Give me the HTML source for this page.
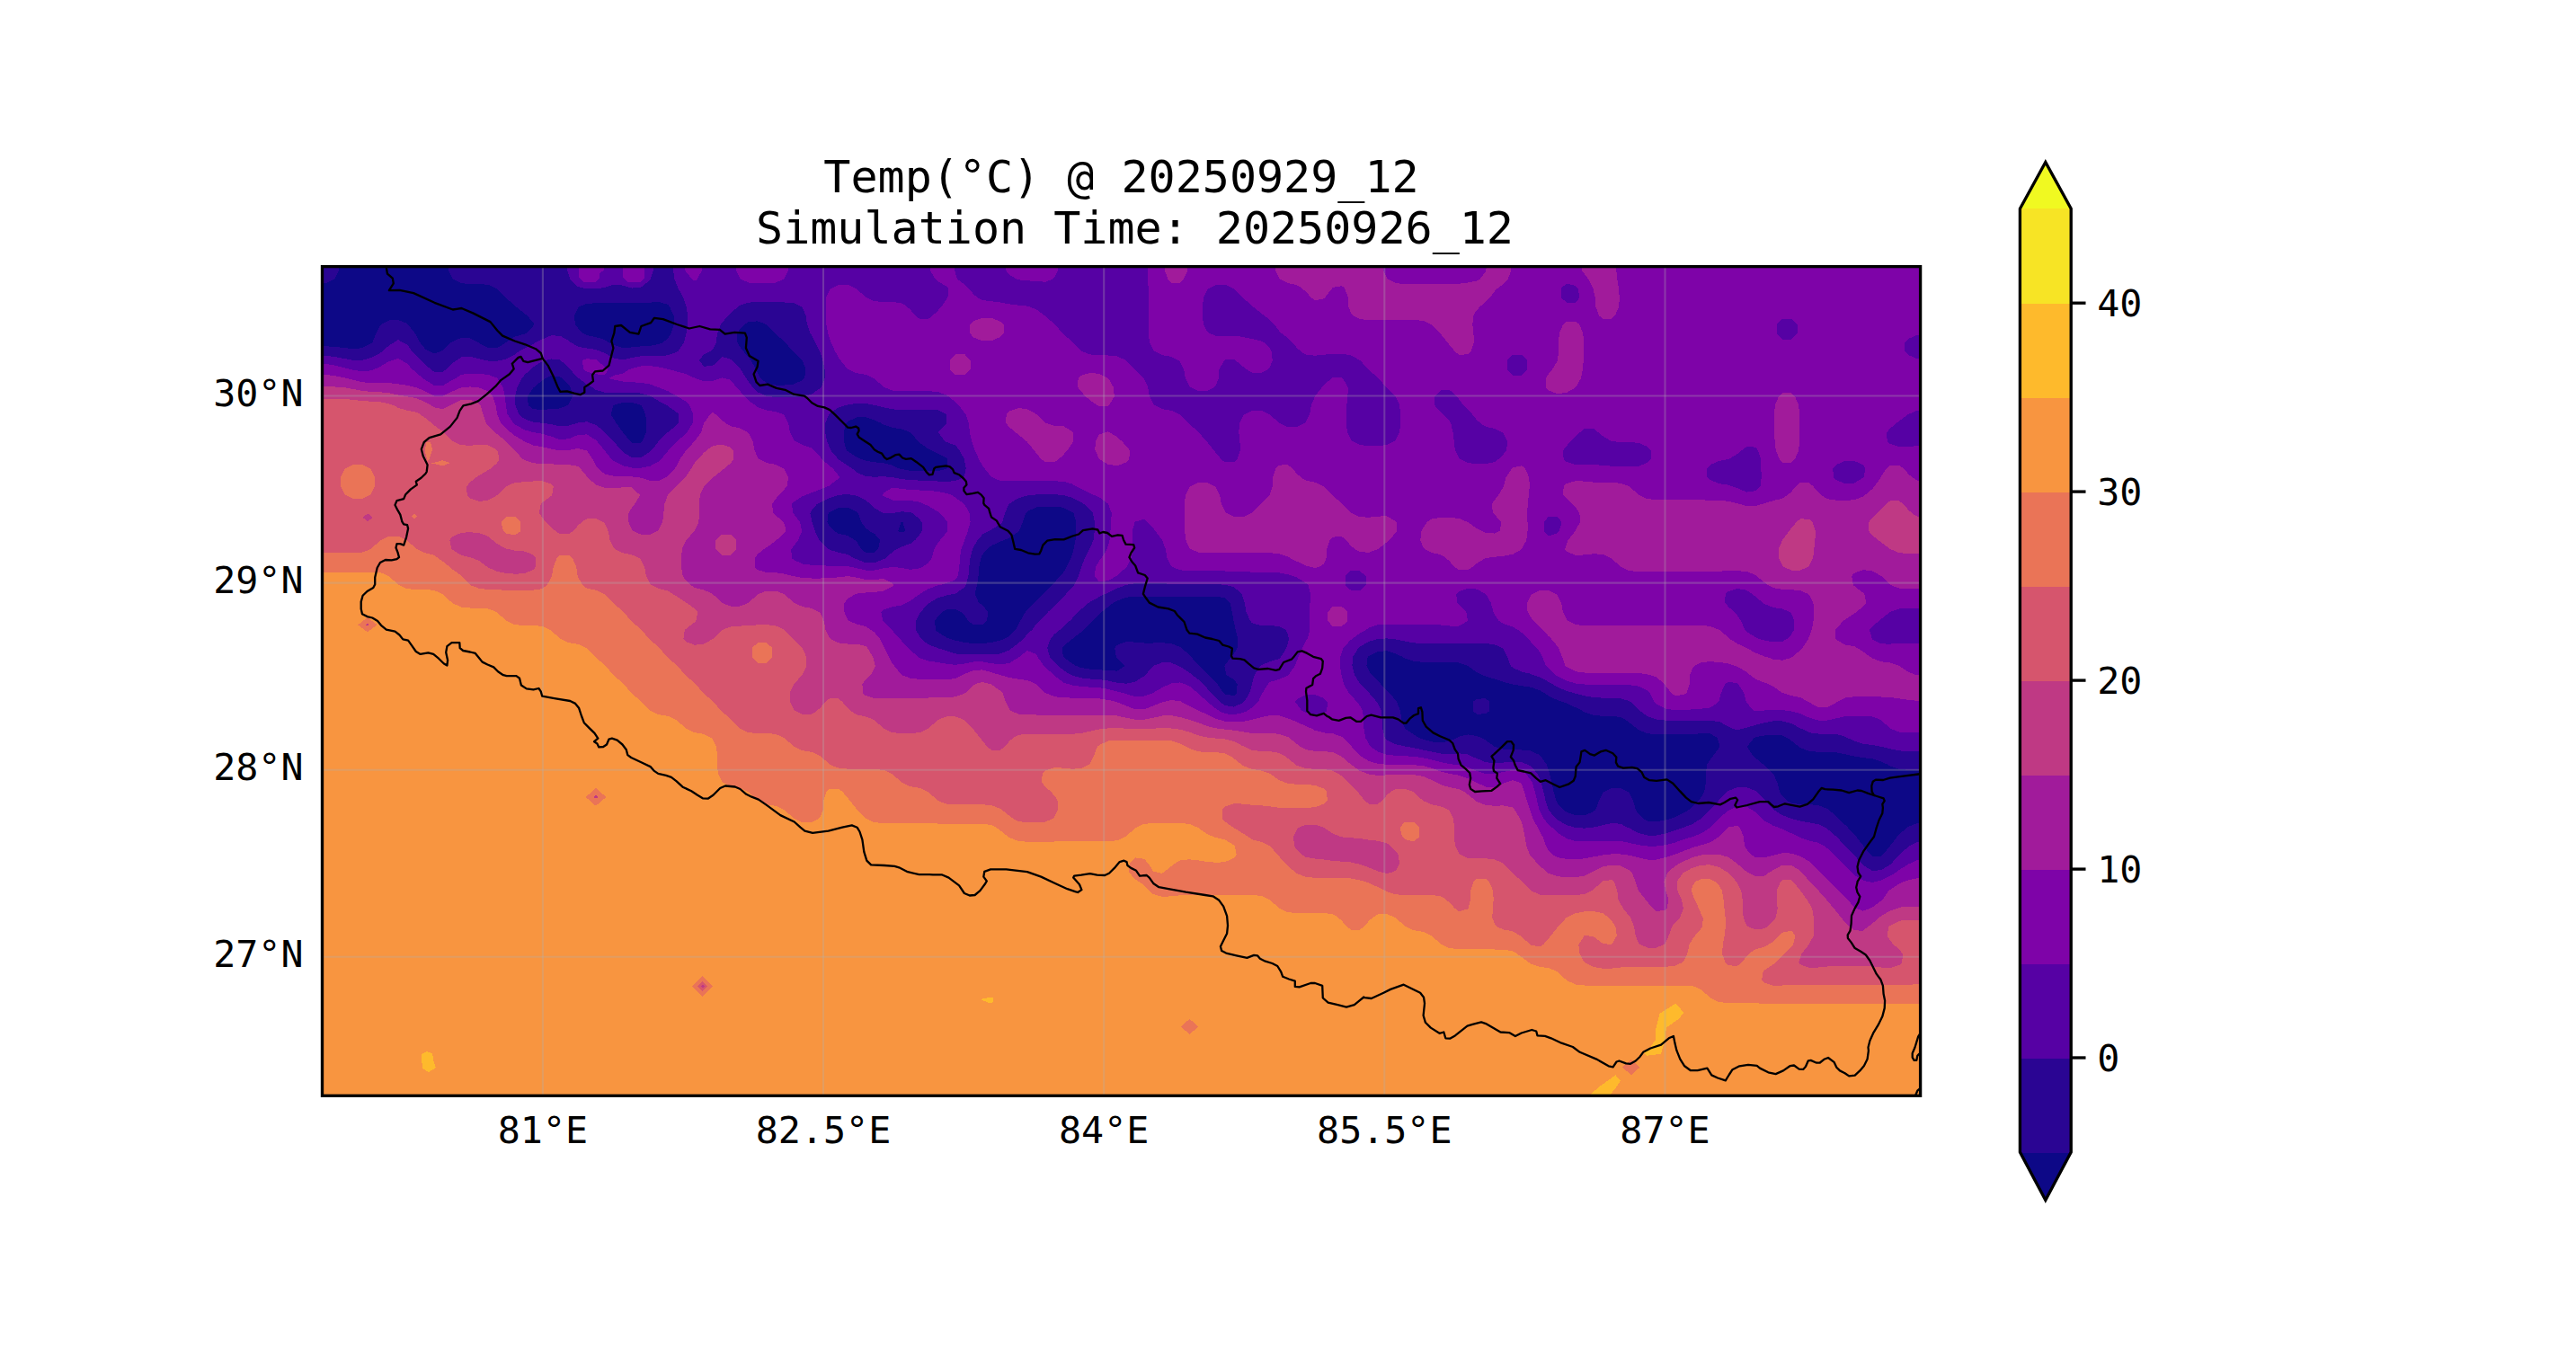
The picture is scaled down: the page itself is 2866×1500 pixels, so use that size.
<!DOCTYPE html>
<html><head><meta charset="utf-8"><title>Temp</title>
<style>html,body{margin:0;padding:0;background:#fff}svg{display:block}text{font-family:"DejaVu Sans Mono","Liberation Mono",monospace;fill:#000}</style></head><body>
<svg width="2866" height="1500" viewBox="0 0 2866 1500">
<rect width="2866" height="1500" fill="#fff"/>
<defs><clipPath id="axclip"><rect x="358.5" y="296.6" width="1778.1" height="922.7"/></clipPath></defs>
<g clip-path="url(#axclip)" shape-rendering="crispEdges">
<rect x="356.5" y="294.6" width="1782.1" height="926.7" fill="#0d0887"/>
<path fill="#2a0593" fill-rule="evenodd" d="M343.0 281.0L353.0 281.0L363.0 281.0L373.0 281.0L378.0 281.0L378.0 291.0L377.1 301.0L373.0 309.4L371.4 311.0L363.0 315.1L353.0 316.0L343.0 316.0L343.0 311.0L343.0 301.0L343.0 291.0ZM498.0 281.0L503.0 281.0L513.0 281.0L523.0 281.0L533.0 281.0L543.0 281.0L553.0 281.0L563.0 281.0L573.0 281.0L583.0 281.0L593.0 281.0L603.0 281.0L613.0 281.0L623.0 281.0L633.0 281.0L643.0 281.0L653.0 281.0L663.0 281.0L673.0 281.0L683.0 281.0L693.0 281.0L703.0 281.0L713.0 281.0L723.0 281.0L733.0 281.0L743.0 281.0L753.0 281.0L763.0 281.0L773.0 281.0L783.0 281.0L793.0 281.0L803.0 281.0L813.0 281.0L823.0 281.0L833.0 281.0L843.0 281.0L853.0 281.0L863.0 281.0L873.0 281.0L883.0 281.0L893.0 281.0L903.0 281.0L913.0 281.0L923.0 281.0L933.0 281.0L943.0 281.0L953.0 281.0L963.0 281.0L973.0 281.0L983.0 281.0L993.0 281.0L1003.0 281.0L1013.0 281.0L1023.0 281.0L1033.0 281.0L1043.0 281.0L1053.0 281.0L1063.0 281.0L1073.0 281.0L1083.0 281.0L1093.0 281.0L1103.0 281.0L1113.0 281.0L1123.0 281.0L1133.0 281.0L1143.0 281.0L1153.0 281.0L1163.0 281.0L1173.0 281.0L1183.0 281.0L1193.0 281.0L1203.0 281.0L1213.0 281.0L1223.0 281.0L1233.0 281.0L1243.0 281.0L1253.0 281.0L1263.0 281.0L1273.0 281.0L1283.0 281.0L1293.0 281.0L1303.0 281.0L1313.0 281.0L1323.0 281.0L1333.0 281.0L1343.0 281.0L1353.0 281.0L1363.0 281.0L1373.0 281.0L1383.0 281.0L1393.0 281.0L1403.0 281.0L1413.0 281.0L1423.0 281.0L1433.0 281.0L1443.0 281.0L1453.0 281.0L1463.0 281.0L1473.0 281.0L1483.0 281.0L1493.0 281.0L1503.0 281.0L1513.0 281.0L1523.0 281.0L1533.0 281.0L1543.0 281.0L1553.0 281.0L1563.0 281.0L1573.0 281.0L1583.0 281.0L1593.0 281.0L1603.0 281.0L1613.0 281.0L1623.0 281.0L1633.0 281.0L1643.0 281.0L1653.0 281.0L1663.0 281.0L1673.0 281.0L1683.0 281.0L1693.0 281.0L1703.0 281.0L1713.0 281.0L1723.0 281.0L1733.0 281.0L1743.0 281.0L1753.0 281.0L1763.0 281.0L1773.0 281.0L1783.0 281.0L1793.0 281.0L1803.0 281.0L1813.0 281.0L1823.0 281.0L1833.0 281.0L1843.0 281.0L1853.0 281.0L1863.0 281.0L1873.0 281.0L1883.0 281.0L1893.0 281.0L1903.0 281.0L1913.0 281.0L1923.0 281.0L1933.0 281.0L1943.0 281.0L1953.0 281.0L1963.0 281.0L1973.0 281.0L1983.0 281.0L1993.0 281.0L2003.0 281.0L2013.0 281.0L2023.0 281.0L2033.0 281.0L2043.0 281.0L2053.0 281.0L2063.0 281.0L2073.0 281.0L2083.0 281.0L2093.0 281.0L2103.0 281.0L2113.0 281.0L2123.0 281.0L2133.0 281.0L2143.0 281.0L2153.0 281.0L2153.0 291.0L2153.0 301.0L2153.0 311.0L2153.0 321.0L2153.0 331.0L2153.0 341.0L2153.0 351.0L2153.0 361.0L2153.0 371.0L2153.0 381.0L2153.0 391.0L2153.0 401.0L2153.0 411.0L2153.0 421.0L2153.0 431.0L2153.0 441.0L2153.0 451.0L2153.0 461.0L2153.0 471.0L2153.0 481.0L2153.0 491.0L2153.0 501.0L2153.0 511.0L2153.0 521.0L2153.0 531.0L2153.0 541.0L2153.0 551.0L2153.0 561.0L2153.0 571.0L2153.0 581.0L2153.0 591.0L2153.0 601.0L2153.0 611.0L2153.0 621.0L2153.0 631.0L2153.0 641.0L2153.0 651.0L2153.0 661.0L2153.0 671.0L2153.0 681.0L2153.0 691.0L2153.0 701.0L2153.0 711.0L2153.0 721.0L2153.0 731.0L2153.0 741.0L2153.0 751.0L2153.0 761.0L2153.0 771.0L2153.0 781.0L2153.0 791.0L2153.0 801.0L2153.0 811.0L2153.0 821.0L2153.0 831.0L2153.0 841.0L2153.0 851.0L2153.0 856.7L2143.0 856.7L2133.0 856.7L2123.0 856.7L2113.0 856.0L2103.0 852.6L2100.7 851.0L2093.0 847.4L2083.0 844.3L2073.0 843.2L2063.0 841.6L2060.7 841.0L2053.0 839.3L2043.0 837.3L2033.0 836.7L2023.0 836.7L2013.0 836.0L2003.0 832.1L2001.6 831.0L1993.0 824.2L1988.5 821.0L1983.0 818.4L1973.0 817.5L1963.0 818.5L1953.0 820.3L1951.5 821.0L1943.7 831.0L1950.5 841.0L1953.0 843.3L1962.2 851.0L1963.0 851.7L1972.9 861.0L1973.0 861.2L1977.5 871.0L1980.0 881.0L1983.0 886.0L1988.0 891.0L1993.0 893.6L2003.0 895.1L2013.0 895.2L2023.0 896.0L2033.0 899.9L2034.3 901.0L2043.0 908.2L2045.8 911.0L2053.0 918.0L2056.0 921.0L2063.0 928.5L2065.2 931.0L2073.0 941.0L2073.0 941.0L2081.0 951.0L2083.0 953.0L2093.0 952.9L2095.0 951.0L2103.0 941.0L2103.0 941.0L2110.8 931.0L2113.0 928.5L2121.7 921.0L2123.0 919.9L2133.0 916.0L2143.0 915.3L2153.0 915.3L2153.0 921.0L2153.0 931.0L2153.0 941.0L2153.0 951.0L2153.0 961.0L2153.0 971.0L2153.0 981.0L2153.0 991.0L2153.0 1001.0L2153.0 1011.0L2153.0 1021.0L2153.0 1031.0L2153.0 1041.0L2153.0 1051.0L2153.0 1061.0L2153.0 1071.0L2153.0 1081.0L2153.0 1091.0L2153.0 1101.0L2153.0 1111.0L2153.0 1121.0L2153.0 1131.0L2153.0 1141.0L2153.0 1151.0L2153.0 1161.0L2153.0 1171.0L2153.0 1181.0L2153.0 1191.0L2153.0 1201.0L2153.0 1211.0L2153.0 1221.0L2153.0 1231.0L2153.0 1241.0L2153.0 1251.0L2143.0 1251.0L2133.0 1251.0L2123.0 1251.0L2113.0 1251.0L2103.0 1251.0L2093.0 1251.0L2083.0 1251.0L2073.0 1251.0L2063.0 1251.0L2053.0 1251.0L2043.0 1251.0L2033.0 1251.0L2023.0 1251.0L2013.0 1251.0L2003.0 1251.0L1993.0 1251.0L1983.0 1251.0L1973.0 1251.0L1963.0 1251.0L1953.0 1251.0L1943.0 1251.0L1933.0 1251.0L1923.0 1251.0L1913.0 1251.0L1903.0 1251.0L1893.0 1251.0L1883.0 1251.0L1873.0 1251.0L1863.0 1251.0L1853.0 1251.0L1843.0 1251.0L1833.0 1251.0L1823.0 1251.0L1813.0 1251.0L1803.0 1251.0L1793.0 1251.0L1783.0 1251.0L1773.0 1251.0L1763.0 1251.0L1753.0 1251.0L1743.0 1251.0L1733.0 1251.0L1723.0 1251.0L1713.0 1251.0L1703.0 1251.0L1693.0 1251.0L1683.0 1251.0L1673.0 1251.0L1663.0 1251.0L1653.0 1251.0L1643.0 1251.0L1633.0 1251.0L1623.0 1251.0L1613.0 1251.0L1603.0 1251.0L1593.0 1251.0L1583.0 1251.0L1573.0 1251.0L1563.0 1251.0L1553.0 1251.0L1543.0 1251.0L1533.0 1251.0L1523.0 1251.0L1513.0 1251.0L1503.0 1251.0L1493.0 1251.0L1483.0 1251.0L1473.0 1251.0L1463.0 1251.0L1453.0 1251.0L1443.0 1251.0L1433.0 1251.0L1423.0 1251.0L1413.0 1251.0L1403.0 1251.0L1393.0 1251.0L1383.0 1251.0L1373.0 1251.0L1363.0 1251.0L1353.0 1251.0L1343.0 1251.0L1333.0 1251.0L1323.0 1251.0L1313.0 1251.0L1303.0 1251.0L1293.0 1251.0L1283.0 1251.0L1273.0 1251.0L1263.0 1251.0L1253.0 1251.0L1243.0 1251.0L1233.0 1251.0L1223.0 1251.0L1213.0 1251.0L1203.0 1251.0L1193.0 1251.0L1183.0 1251.0L1173.0 1251.0L1163.0 1251.0L1153.0 1251.0L1143.0 1251.0L1133.0 1251.0L1123.0 1251.0L1113.0 1251.0L1103.0 1251.0L1093.0 1251.0L1083.0 1251.0L1073.0 1251.0L1063.0 1251.0L1053.0 1251.0L1043.0 1251.0L1033.0 1251.0L1023.0 1251.0L1013.0 1251.0L1003.0 1251.0L993.0 1251.0L983.0 1251.0L973.0 1251.0L963.0 1251.0L953.0 1251.0L943.0 1251.0L933.0 1251.0L923.0 1251.0L913.0 1251.0L903.0 1251.0L893.0 1251.0L883.0 1251.0L873.0 1251.0L863.0 1251.0L853.0 1251.0L843.0 1251.0L833.0 1251.0L823.0 1251.0L813.0 1251.0L803.0 1251.0L793.0 1251.0L783.0 1251.0L773.0 1251.0L763.0 1251.0L753.0 1251.0L743.0 1251.0L733.0 1251.0L723.0 1251.0L713.0 1251.0L703.0 1251.0L693.0 1251.0L683.0 1251.0L673.0 1251.0L663.0 1251.0L653.0 1251.0L643.0 1251.0L633.0 1251.0L623.0 1251.0L613.0 1251.0L603.0 1251.0L593.0 1251.0L583.0 1251.0L573.0 1251.0L563.0 1251.0L553.0 1251.0L543.0 1251.0L533.0 1251.0L523.0 1251.0L513.0 1251.0L503.0 1251.0L493.0 1251.0L483.0 1251.0L473.0 1251.0L463.0 1251.0L453.0 1251.0L443.0 1251.0L433.0 1251.0L423.0 1251.0L413.0 1251.0L403.0 1251.0L393.0 1251.0L383.0 1251.0L373.0 1251.0L363.0 1251.0L353.0 1251.0L343.0 1251.0L343.0 1241.0L343.0 1231.0L343.0 1221.0L343.0 1211.0L343.0 1201.0L343.0 1191.0L343.0 1181.0L343.0 1171.0L343.0 1161.0L343.0 1151.0L343.0 1141.0L343.0 1131.0L343.0 1121.0L343.0 1111.0L343.0 1101.0L343.0 1091.0L343.0 1081.0L343.0 1071.0L343.0 1061.0L343.0 1051.0L343.0 1041.0L343.0 1031.0L343.0 1021.0L343.0 1011.0L343.0 1001.0L343.0 991.0L343.0 981.0L343.0 971.0L343.0 961.0L343.0 951.0L343.0 941.0L343.0 931.0L343.0 921.0L343.0 911.0L343.0 901.0L343.0 891.0L343.0 881.0L343.0 871.0L343.0 861.0L343.0 851.0L343.0 841.0L343.0 831.0L343.0 821.0L343.0 811.0L343.0 801.0L343.0 791.0L343.0 781.0L343.0 771.0L343.0 761.0L343.0 751.0L343.0 741.0L343.0 731.0L343.0 721.0L343.0 711.0L343.0 701.0L343.0 691.0L343.0 681.0L343.0 671.0L343.0 661.0L343.0 651.0L343.0 641.0L343.0 631.0L343.0 621.0L343.0 611.0L343.0 601.0L343.0 591.0L343.0 581.0L343.0 571.0L343.0 561.0L343.0 551.0L343.0 541.0L343.0 531.0L343.0 521.0L343.0 511.0L343.0 501.0L343.0 491.0L343.0 481.0L343.0 471.0L343.0 461.0L343.0 451.0L343.0 441.0L343.0 431.0L343.0 421.0L343.0 411.0L343.0 401.0L343.0 391.0L343.0 385.2L353.0 385.2L363.0 385.3L373.0 385.9L383.0 387.1L393.0 388.2L403.0 387.2L413.0 382.2L414.4 381.0L418.4 371.0L423.0 362.1L424.1 361.0L433.0 356.4L443.0 356.1L453.0 360.1L454.0 361.0L461.7 371.0L463.0 373.3L467.3 381.0L473.0 388.3L477.6 391.0L483.0 393.6L490.6 391.0L493.0 389.6L502.0 381.0L503.0 380.2L513.0 376.0L523.0 376.3L531.5 381.0L533.0 381.7L543.0 387.3L553.0 387.3L563.0 381.1L563.1 381.0L573.0 374.5L583.0 371.8L585.0 371.0L593.0 363.0L594.6 361.0L593.0 358.3L586.2 351.0L583.0 348.5L573.8 341.0L573.0 340.2L563.0 331.5L562.5 331.0L553.0 321.3L552.5 321.0L543.0 316.8L533.0 316.0L523.0 316.0L513.0 315.1L504.6 311.0L503.0 309.4L498.9 301.0L498.0 291.0ZM613.0 418.2L607.3 421.0L603.0 423.7L593.9 431.0L593.0 431.8L586.9 441.0L587.8 451.0L593.0 455.2L603.0 455.9L613.0 455.2L623.0 454.4L631.4 451.0L633.0 449.4L636.9 441.0L634.9 431.0L633.0 428.8L625.2 421.0L623.0 419.2ZM653.0 337.9L644.6 341.0L643.0 342.6L638.9 351.0L640.0 361.0L643.0 365.1L648.9 371.0L653.0 373.1L663.0 375.1L673.0 378.2L677.0 381.0L683.0 384.0L693.0 387.2L703.0 386.4L713.0 385.4L723.0 384.8L733.0 383.0L737.7 381.0L743.0 376.4L746.6 371.0L749.7 361.0L749.5 351.0L744.9 341.0L743.0 338.7L733.0 336.1L723.0 336.6L713.0 337.0L703.0 337.1L693.0 336.9L683.0 336.8L673.0 337.0L663.0 337.2ZM833.0 358.1L828.0 361.0L823.0 366.0L820.1 371.0L820.3 381.0L823.0 385.5L827.1 391.0L833.0 397.9L835.6 401.0L841.0 411.0L843.0 415.5L846.3 421.0L853.0 426.5L863.0 428.5L873.0 428.5L883.0 427.5L893.0 422.9L895.0 421.0L896.5 411.0L893.0 401.5L892.7 401.0L883.0 391.6L882.4 391.0L873.4 381.0L873.0 380.5L863.0 371.5L862.5 371.0L853.0 361.3L852.5 361.0L843.0 357.4ZM923.0 569.8L921.6 571.0L920.4 581.0L923.0 586.0L928.0 591.0L933.0 593.9L943.0 595.9L950.9 601.0L953.0 602.7L958.2 611.0L963.0 614.7L973.0 614.5L977.0 611.0L979.2 601.0L973.0 593.9L967.4 591.0L963.0 587.5L958.4 581.0L954.8 571.0L953.0 569.4L943.0 564.6L933.0 564.8ZM943.0 469.1L941.0 471.0L938.8 481.0L938.9 491.0L941.8 501.0L943.0 502.1L953.0 508.7L958.2 511.0L963.0 512.6L973.0 514.3L983.0 515.2L993.0 517.7L999.1 521.0L1003.0 522.0L1013.0 523.8L1023.0 524.3L1033.0 524.5L1043.0 524.3L1053.0 521.6L1053.9 521.0L1054.5 511.0L1053.0 509.6L1043.0 504.3L1035.9 501.0L1033.0 499.7L1023.0 492.5L1021.4 491.0L1013.0 481.3L1012.5 481.0L1003.0 477.4L993.0 476.0L983.0 472.6L980.7 471.0L973.0 467.4L963.0 464.3L953.0 464.5ZM1143.0 569.1L1141.0 571.0L1138.0 581.0L1133.5 591.0L1133.0 591.6L1123.0 598.7L1116.8 601.0L1113.0 602.6L1103.0 607.2L1098.2 611.0L1093.0 617.3L1091.4 621.0L1089.4 631.0L1088.5 641.0L1087.1 651.0L1084.6 661.0L1089.2 671.0L1093.0 673.4L1099.4 681.0L1097.8 691.0L1093.0 695.0L1083.0 695.2L1077.3 691.0L1073.0 684.7L1069.4 681.0L1063.0 677.9L1053.0 678.5L1048.0 681.0L1043.0 686.0L1040.1 691.0L1040.9 701.0L1043.0 703.1L1053.0 709.3L1057.1 711.0L1063.0 712.7L1073.0 714.9L1083.0 716.1L1093.0 716.1L1103.0 714.9L1113.0 712.7L1117.2 711.0L1123.0 707.8L1129.8 701.0L1133.0 695.4L1135.1 691.0L1140.8 681.0L1143.0 678.5L1150.2 671.0L1153.0 668.2L1160.1 661.0L1163.0 658.1L1170.2 651.0L1173.0 648.2L1179.7 641.0L1183.0 637.2L1186.8 631.0L1191.4 621.0L1193.0 616.8L1194.6 611.0L1196.6 601.0L1197.3 591.0L1197.3 581.0L1194.4 571.0L1193.0 569.8L1183.0 564.8L1173.0 563.5L1163.0 563.5L1153.0 564.5ZM1243.0 668.5L1238.3 671.0L1233.0 675.3L1225.8 681.0L1223.0 683.8L1215.9 691.0L1213.0 693.9L1205.5 701.0L1203.0 703.2L1193.0 710.9L1192.9 711.0L1183.0 719.2L1181.5 721.0L1183.0 731.0L1183.0 731.0L1193.0 738.5L1197.2 741.0L1203.0 743.1L1213.0 744.7L1223.0 745.3L1233.0 746.0L1243.0 746.6L1251.7 741.0L1243.0 732.6L1241.8 731.0L1240.1 721.0L1243.0 717.8L1253.0 714.1L1263.0 714.6L1273.0 715.5L1283.0 715.5L1293.0 715.3L1303.0 716.0L1313.0 719.9L1314.3 721.0L1323.0 728.5L1325.2 731.0L1333.0 739.5L1334.3 741.0L1343.0 749.8L1345.0 751.0L1353.0 759.1L1354.4 761.0L1361.1 771.0L1363.0 772.8L1373.0 774.0L1376.1 771.0L1376.6 761.0L1373.0 756.4L1364.5 751.0L1363.0 745.1L1362.3 741.0L1363.0 739.9L1370.0 731.0L1373.0 727.0L1376.8 721.0L1377.2 711.0L1374.8 701.0L1373.0 693.3L1372.4 691.0L1370.8 681.0L1368.5 671.0L1363.0 665.5L1353.0 663.5L1343.0 663.5L1333.0 663.5L1323.0 663.5L1313.0 663.5L1303.0 663.5L1293.0 663.5L1283.0 663.5L1273.0 663.5L1263.0 663.5L1253.0 664.7ZM1523.0 729.8L1521.7 731.0L1520.4 741.0L1523.0 746.5L1526.2 751.0L1533.0 758.0L1536.0 761.0L1543.0 768.2L1545.8 771.0L1553.0 779.7L1554.1 781.0L1558.0 791.0L1559.4 801.0L1563.0 810.5L1563.3 811.0L1573.0 817.4L1578.3 821.0L1583.0 822.6L1593.0 825.4L1603.0 826.5L1613.0 824.4L1621.1 821.0L1623.0 819.8L1633.0 817.4L1643.0 818.9L1647.7 821.0L1653.0 823.7L1663.0 831.0L1663.0 831.0L1673.0 833.9L1683.0 834.4L1693.0 834.5L1703.0 835.5L1713.0 840.2L1713.9 841.0L1720.9 851.0L1723.0 858.0L1724.1 861.0L1726.6 871.0L1728.6 881.0L1731.4 891.0L1733.0 894.4L1739.0 901.0L1743.0 903.8L1753.0 907.4L1763.0 907.5L1773.0 902.9L1775.3 901.0L1778.9 891.0L1783.0 882.6L1784.6 881.0L1793.0 876.9L1803.0 876.9L1811.4 881.0L1813.0 882.6L1817.1 891.0L1819.7 901.0L1823.0 906.0L1828.0 911.0L1833.0 913.5L1843.0 914.2L1853.0 912.5L1858.8 911.0L1863.0 909.4L1873.0 904.8L1879.1 901.0L1883.0 897.6L1889.8 891.0L1893.0 886.5L1896.1 881.0L1897.8 871.0L1897.9 861.0L1899.2 851.0L1903.0 845.0L1906.0 841.0L1913.0 831.8L1913.4 831.0L1913.0 829.1L1910.6 821.0L1903.0 816.4L1893.0 816.1L1883.0 817.0L1873.0 817.2L1863.0 817.2L1853.0 817.2L1843.0 817.1L1833.0 816.2L1823.0 812.2L1821.5 811.0L1813.0 804.2L1808.5 801.0L1803.0 798.1L1793.0 796.7L1783.0 796.7L1773.0 796.0L1763.0 792.6L1760.7 791.0L1753.0 787.2L1743.0 782.6L1739.2 781.0L1733.0 779.2L1723.0 774.5L1718.3 771.0L1713.0 768.2L1703.0 764.6L1693.0 763.2L1683.0 761.6L1680.9 761.0L1673.0 759.0L1663.0 755.6L1653.0 752.6L1649.1 751.0L1643.0 748.0L1633.0 741.0L1633.0 741.0L1623.0 737.4L1613.0 736.7L1603.0 736.7L1593.0 736.7L1583.0 736.7L1573.0 736.0L1563.0 732.6L1560.7 731.0L1553.0 727.4L1543.0 724.3L1533.0 724.8ZM683.0 450.7L682.3 451.0L679.6 461.0L683.0 466.7L685.7 471.0L693.0 481.0L693.0 481.0L701.0 491.0L703.0 492.9L713.0 492.7L714.6 491.0L718.9 481.0L719.3 471.0L718.2 461.0L713.5 451.0L713.0 450.7L703.0 447.8L693.0 448.0ZM1003.0 580.7L1002.4 581.0L999.1 591.0L1003.0 592.6L1007.3 591.0L1004.4 581.0ZM1638.7 781.0L1643.0 777.6L1653.0 777.4L1657.3 781.0L1657.3 791.0L1653.0 794.4L1643.0 794.6L1638.7 791.0Z"/>
<path fill="#5601a4" fill-rule="evenodd" d="M630.5 281.0L633.0 281.0L643.0 281.0L653.0 281.0L663.0 281.0L673.0 281.0L683.0 281.0L693.0 281.0L703.0 281.0L713.0 281.0L723.0 281.0L727.3 281.0L727.3 291.0L726.8 301.0L723.6 311.0L723.0 311.8L713.0 319.9L703.0 320.6L693.0 317.6L683.0 316.6L673.0 319.8L666.0 321.0L663.0 321.5L653.0 321.4L651.1 321.0L643.0 319.0L634.4 311.0L633.0 306.5L631.2 301.0L630.5 291.0ZM748.7 281.0L753.0 281.0L763.0 281.0L773.0 281.0L783.0 281.0L793.0 281.0L803.0 281.0L813.0 281.0L823.0 281.0L833.0 281.0L843.0 281.0L853.0 281.0L863.0 281.0L873.0 281.0L883.0 281.0L893.0 281.0L903.0 281.0L913.0 281.0L923.0 281.0L933.0 281.0L943.0 281.0L953.0 281.0L963.0 281.0L973.0 281.0L983.0 281.0L993.0 281.0L1003.0 281.0L1013.0 281.0L1023.0 281.0L1033.0 281.0L1043.0 281.0L1053.0 281.0L1063.0 281.0L1073.0 281.0L1083.0 281.0L1093.0 281.0L1103.0 281.0L1113.0 281.0L1123.0 281.0L1133.0 281.0L1143.0 281.0L1153.0 281.0L1163.0 281.0L1173.0 281.0L1183.0 281.0L1193.0 281.0L1203.0 281.0L1213.0 281.0L1223.0 281.0L1233.0 281.0L1243.0 281.0L1253.0 281.0L1263.0 281.0L1273.0 281.0L1283.0 281.0L1293.0 281.0L1303.0 281.0L1313.0 281.0L1323.0 281.0L1333.0 281.0L1343.0 281.0L1353.0 281.0L1363.0 281.0L1373.0 281.0L1383.0 281.0L1393.0 281.0L1403.0 281.0L1413.0 281.0L1423.0 281.0L1433.0 281.0L1443.0 281.0L1453.0 281.0L1463.0 281.0L1473.0 281.0L1483.0 281.0L1493.0 281.0L1503.0 281.0L1513.0 281.0L1523.0 281.0L1533.0 281.0L1543.0 281.0L1553.0 281.0L1563.0 281.0L1573.0 281.0L1583.0 281.0L1593.0 281.0L1603.0 281.0L1613.0 281.0L1623.0 281.0L1633.0 281.0L1643.0 281.0L1653.0 281.0L1663.0 281.0L1673.0 281.0L1683.0 281.0L1693.0 281.0L1703.0 281.0L1713.0 281.0L1723.0 281.0L1733.0 281.0L1743.0 281.0L1753.0 281.0L1763.0 281.0L1773.0 281.0L1783.0 281.0L1793.0 281.0L1803.0 281.0L1813.0 281.0L1823.0 281.0L1833.0 281.0L1843.0 281.0L1853.0 281.0L1863.0 281.0L1873.0 281.0L1883.0 281.0L1893.0 281.0L1903.0 281.0L1913.0 281.0L1923.0 281.0L1933.0 281.0L1943.0 281.0L1953.0 281.0L1963.0 281.0L1973.0 281.0L1983.0 281.0L1993.0 281.0L2003.0 281.0L2013.0 281.0L2023.0 281.0L2033.0 281.0L2043.0 281.0L2053.0 281.0L2063.0 281.0L2073.0 281.0L2083.0 281.0L2093.0 281.0L2103.0 281.0L2113.0 281.0L2123.0 281.0L2133.0 281.0L2143.0 281.0L2153.0 281.0L2153.0 291.0L2153.0 301.0L2153.0 311.0L2153.0 321.0L2153.0 331.0L2153.0 341.0L2153.0 351.0L2153.0 361.0L2153.0 371.0L2153.0 381.0L2153.0 391.0L2153.0 401.0L2153.0 411.0L2153.0 421.0L2153.0 431.0L2153.0 441.0L2153.0 451.0L2153.0 461.0L2153.0 471.0L2153.0 481.0L2153.0 491.0L2153.0 501.0L2153.0 511.0L2153.0 521.0L2153.0 531.0L2153.0 541.0L2153.0 551.0L2153.0 561.0L2153.0 571.0L2153.0 581.0L2153.0 591.0L2153.0 601.0L2153.0 611.0L2153.0 621.0L2153.0 631.0L2153.0 641.0L2153.0 651.0L2153.0 661.0L2153.0 671.0L2153.0 681.0L2153.0 691.0L2153.0 701.0L2153.0 711.0L2153.0 721.0L2153.0 731.0L2153.0 741.0L2153.0 751.0L2153.0 761.0L2153.0 771.0L2153.0 781.0L2153.0 791.0L2153.0 801.0L2153.0 811.0L2153.0 821.0L2153.0 831.0L2153.0 836.0L2143.0 836.0L2133.0 836.0L2123.0 836.0L2113.0 835.4L2103.0 833.3L2093.6 831.0L2093.0 830.8L2083.0 829.0L2073.0 827.7L2063.0 824.6L2055.3 821.0L2053.0 819.7L2043.0 816.9L2033.0 816.5L2023.0 816.5L2013.0 815.2L2004.5 811.0L2003.0 810.4L1993.0 805.1L1983.0 802.4L1973.0 802.3L1963.0 804.2L1953.0 806.8L1943.0 809.7L1937.9 811.0L1933.0 812.6L1928.4 811.0L1923.0 808.5L1913.0 803.1L1903.0 801.8L1893.0 801.7L1883.0 801.8L1873.0 801.8L1863.0 801.8L1853.0 801.6L1847.5 801.0L1843.0 800.5L1833.0 797.2L1824.5 791.0L1823.0 789.2L1814.1 781.0L1813.0 780.2L1803.0 777.2L1793.0 776.6L1783.0 776.6L1773.0 776.0L1763.0 774.3L1753.0 771.7L1750.8 771.0L1743.0 768.8L1733.0 764.7L1726.7 761.0L1723.0 758.8L1713.0 753.4L1705.5 751.0L1703.0 749.8L1693.0 747.5L1683.0 742.9L1680.7 741.0L1677.1 731.0L1673.0 722.6L1671.4 721.0L1663.0 717.3L1653.0 716.0L1643.0 715.9L1633.0 716.1L1623.0 716.2L1613.0 716.1L1603.0 716.0L1593.0 716.0L1583.0 716.0L1573.0 715.4L1563.0 713.5L1553.0 711.5L1548.5 711.0L1543.0 710.4L1533.0 710.9L1532.8 711.0L1523.0 713.9L1513.0 719.6L1511.3 721.0L1505.1 731.0L1504.4 741.0L1507.1 751.0L1513.0 760.6L1513.3 761.0L1523.0 770.9L1523.1 771.0L1531.8 781.0L1533.0 783.5L1536.8 791.0L1538.0 801.0L1538.2 811.0L1540.7 821.0L1543.0 823.3L1553.0 828.4L1563.0 830.4L1565.5 831.0L1573.0 832.2L1583.0 834.4L1593.0 836.6L1603.0 838.6L1613.0 839.2L1623.0 838.3L1633.0 839.4L1636.0 841.0L1643.0 844.0L1653.0 848.2L1663.0 849.4L1673.0 848.5L1683.0 847.6L1693.0 848.2L1700.4 851.0L1703.0 852.2L1710.6 861.0L1713.0 866.5L1714.7 871.0L1717.3 881.0L1719.5 891.0L1722.7 901.0L1723.0 901.5L1731.2 911.0L1733.0 912.5L1743.0 918.2L1752.8 921.0L1753.0 921.1L1763.0 921.6L1768.5 921.0L1773.0 920.5L1783.0 918.3L1793.0 916.0L1803.0 916.7L1811.2 921.0L1813.0 921.7L1823.0 926.9L1833.0 929.6L1843.0 929.6L1853.0 927.6L1863.0 924.1L1872.4 921.0L1873.0 920.8L1883.0 917.0L1892.4 911.0L1893.0 910.5L1903.0 901.0L1903.0 901.0L1912.1 891.0L1913.0 889.7L1921.9 881.0L1923.0 879.9L1933.0 876.0L1943.0 876.0L1953.0 880.0L1954.1 881.0L1963.0 889.7L1963.9 891.0L1973.0 900.7L1973.4 901.0L1983.0 907.1L1993.0 910.9L1993.5 911.0L2003.0 913.5L2013.0 915.4L2023.0 917.2L2030.5 921.0L2033.0 922.2L2043.0 930.9L2043.1 931.0L2052.9 941.0L2053.0 941.1L2062.6 951.0L2063.0 951.5L2071.0 961.0L2073.0 962.9L2083.0 969.0L2093.0 968.2L2103.0 962.0L2104.2 961.0L2113.0 951.4L2113.5 951.0L2123.0 942.2L2125.5 941.0L2133.0 937.2L2143.0 936.0L2153.0 936.0L2153.0 941.0L2153.0 951.0L2153.0 961.0L2153.0 971.0L2153.0 981.0L2153.0 991.0L2153.0 1001.0L2153.0 1011.0L2153.0 1021.0L2153.0 1031.0L2153.0 1041.0L2153.0 1051.0L2153.0 1061.0L2153.0 1071.0L2153.0 1081.0L2153.0 1091.0L2153.0 1101.0L2153.0 1111.0L2153.0 1121.0L2153.0 1131.0L2153.0 1141.0L2153.0 1151.0L2153.0 1161.0L2153.0 1171.0L2153.0 1181.0L2153.0 1191.0L2153.0 1201.0L2153.0 1211.0L2153.0 1221.0L2153.0 1231.0L2153.0 1241.0L2153.0 1251.0L2143.0 1251.0L2133.0 1251.0L2123.0 1251.0L2113.0 1251.0L2103.0 1251.0L2093.0 1251.0L2083.0 1251.0L2073.0 1251.0L2063.0 1251.0L2053.0 1251.0L2043.0 1251.0L2033.0 1251.0L2023.0 1251.0L2013.0 1251.0L2003.0 1251.0L1993.0 1251.0L1983.0 1251.0L1973.0 1251.0L1963.0 1251.0L1953.0 1251.0L1943.0 1251.0L1933.0 1251.0L1923.0 1251.0L1913.0 1251.0L1903.0 1251.0L1893.0 1251.0L1883.0 1251.0L1873.0 1251.0L1863.0 1251.0L1853.0 1251.0L1843.0 1251.0L1833.0 1251.0L1823.0 1251.0L1813.0 1251.0L1803.0 1251.0L1793.0 1251.0L1783.0 1251.0L1773.0 1251.0L1763.0 1251.0L1753.0 1251.0L1743.0 1251.0L1733.0 1251.0L1723.0 1251.0L1713.0 1251.0L1703.0 1251.0L1693.0 1251.0L1683.0 1251.0L1673.0 1251.0L1663.0 1251.0L1653.0 1251.0L1643.0 1251.0L1633.0 1251.0L1623.0 1251.0L1613.0 1251.0L1603.0 1251.0L1593.0 1251.0L1583.0 1251.0L1573.0 1251.0L1563.0 1251.0L1553.0 1251.0L1543.0 1251.0L1533.0 1251.0L1523.0 1251.0L1513.0 1251.0L1503.0 1251.0L1493.0 1251.0L1483.0 1251.0L1473.0 1251.0L1463.0 1251.0L1453.0 1251.0L1443.0 1251.0L1433.0 1251.0L1423.0 1251.0L1413.0 1251.0L1403.0 1251.0L1393.0 1251.0L1383.0 1251.0L1373.0 1251.0L1363.0 1251.0L1353.0 1251.0L1343.0 1251.0L1333.0 1251.0L1323.0 1251.0L1313.0 1251.0L1303.0 1251.0L1293.0 1251.0L1283.0 1251.0L1273.0 1251.0L1263.0 1251.0L1253.0 1251.0L1243.0 1251.0L1233.0 1251.0L1223.0 1251.0L1213.0 1251.0L1203.0 1251.0L1193.0 1251.0L1183.0 1251.0L1173.0 1251.0L1163.0 1251.0L1153.0 1251.0L1143.0 1251.0L1133.0 1251.0L1123.0 1251.0L1113.0 1251.0L1103.0 1251.0L1093.0 1251.0L1083.0 1251.0L1073.0 1251.0L1063.0 1251.0L1053.0 1251.0L1043.0 1251.0L1033.0 1251.0L1023.0 1251.0L1013.0 1251.0L1003.0 1251.0L993.0 1251.0L983.0 1251.0L973.0 1251.0L963.0 1251.0L953.0 1251.0L943.0 1251.0L933.0 1251.0L923.0 1251.0L913.0 1251.0L903.0 1251.0L893.0 1251.0L883.0 1251.0L873.0 1251.0L863.0 1251.0L853.0 1251.0L843.0 1251.0L833.0 1251.0L823.0 1251.0L813.0 1251.0L803.0 1251.0L793.0 1251.0L783.0 1251.0L773.0 1251.0L763.0 1251.0L753.0 1251.0L743.0 1251.0L733.0 1251.0L723.0 1251.0L713.0 1251.0L703.0 1251.0L693.0 1251.0L683.0 1251.0L673.0 1251.0L663.0 1251.0L653.0 1251.0L643.0 1251.0L633.0 1251.0L623.0 1251.0L613.0 1251.0L603.0 1251.0L593.0 1251.0L583.0 1251.0L573.0 1251.0L563.0 1251.0L553.0 1251.0L543.0 1251.0L533.0 1251.0L523.0 1251.0L513.0 1251.0L503.0 1251.0L493.0 1251.0L483.0 1251.0L473.0 1251.0L463.0 1251.0L453.0 1251.0L443.0 1251.0L433.0 1251.0L423.0 1251.0L413.0 1251.0L403.0 1251.0L393.0 1251.0L383.0 1251.0L373.0 1251.0L363.0 1251.0L353.0 1251.0L343.0 1251.0L343.0 1241.0L343.0 1231.0L343.0 1221.0L343.0 1211.0L343.0 1201.0L343.0 1191.0L343.0 1181.0L343.0 1171.0L343.0 1161.0L343.0 1151.0L343.0 1141.0L343.0 1131.0L343.0 1121.0L343.0 1111.0L343.0 1101.0L343.0 1091.0L343.0 1081.0L343.0 1071.0L343.0 1061.0L343.0 1051.0L343.0 1041.0L343.0 1031.0L343.0 1021.0L343.0 1011.0L343.0 1001.0L343.0 991.0L343.0 981.0L343.0 971.0L343.0 961.0L343.0 951.0L343.0 941.0L343.0 931.0L343.0 921.0L343.0 911.0L343.0 901.0L343.0 891.0L343.0 881.0L343.0 871.0L343.0 861.0L343.0 851.0L343.0 841.0L343.0 831.0L343.0 821.0L343.0 811.0L343.0 801.0L343.0 791.0L343.0 781.0L343.0 771.0L343.0 761.0L343.0 751.0L343.0 741.0L343.0 731.0L343.0 721.0L343.0 711.0L343.0 701.0L343.0 691.0L343.0 681.0L343.0 671.0L343.0 661.0L343.0 651.0L343.0 641.0L343.0 631.0L343.0 621.0L343.0 611.0L343.0 601.0L343.0 591.0L343.0 581.0L343.0 571.0L343.0 561.0L343.0 551.0L343.0 541.0L343.0 531.0L343.0 521.0L343.0 511.0L343.0 501.0L343.0 491.0L343.0 481.0L343.0 471.0L343.0 461.0L343.0 451.0L343.0 441.0L343.0 431.0L343.0 421.0L343.0 411.0L343.0 401.0L343.0 395.7L353.0 395.7L363.0 396.0L373.0 397.1L383.0 399.0L393.0 400.8L403.0 400.8L413.0 398.1L423.0 392.8L425.7 391.0L433.0 384.1L438.4 381.0L443.0 378.2L448.2 381.0L453.0 383.4L458.5 391.0L463.0 396.0L468.2 401.0L473.0 405.8L479.6 411.0L483.0 413.8L493.0 413.6L496.2 411.0L503.0 404.4L507.9 401.0L513.0 397.5L523.0 396.8L533.0 399.3L540.4 401.0L543.0 401.5L553.0 401.8L556.9 401.0L563.0 399.6L573.0 394.3L577.2 391.0L583.0 388.0L593.0 383.1L596.0 381.0L603.0 377.6L613.0 373.4L623.0 373.6L633.0 379.3L635.1 381.0L643.0 385.7L653.0 387.5L663.0 389.0L668.0 391.0L673.0 393.0L683.0 398.7L693.0 400.4L703.0 398.1L713.0 396.4L723.0 396.0L733.0 396.0L743.0 395.4L753.0 391.8L754.3 391.0L760.9 381.0L763.0 373.1L763.6 371.0L765.2 361.0L765.2 351.0L763.6 341.0L763.0 339.4L760.2 331.0L754.6 321.0L753.0 316.8L750.5 311.0L749.0 301.0L748.7 291.0ZM823.0 340.0L821.7 341.0L813.0 348.2L810.2 351.0L803.0 359.7L801.9 361.0L798.0 371.0L796.8 381.0L793.0 388.7L789.9 391.0L783.0 394.4L777.9 401.0L783.0 407.8L793.0 406.8L799.8 401.0L803.0 397.0L813.0 399.7L814.3 401.0L823.0 409.5L824.1 411.0L830.2 421.0L833.0 425.0L837.4 431.0L843.0 436.3L853.0 440.8L854.9 441.0L863.0 441.9L873.0 442.2L883.0 442.5L893.0 441.5L894.8 441.0L903.0 438.7L913.0 431.6L913.5 431.0L917.7 421.0L917.6 411.0L915.3 401.0L913.0 393.6L912.1 391.0L907.1 381.0L903.0 373.1L901.5 371.0L898.0 361.0L896.5 351.0L893.0 342.6L891.4 341.0L883.0 337.1L873.0 336.5L863.0 336.4L853.0 336.2L843.0 336.0L833.0 336.6ZM943.0 450.4L940.9 451.0L933.0 453.3L923.0 460.4L922.5 461.0L918.0 471.0L918.0 481.0L920.3 491.0L923.0 497.9L924.1 501.0L932.7 511.0L933.0 511.2L943.0 518.1L947.8 521.0L953.0 525.5L963.0 530.0L973.0 530.7L983.0 530.2L991.5 531.0L993.0 531.1L1003.0 533.0L1013.0 534.2L1023.0 534.6L1033.0 535.0L1043.0 535.5L1053.0 535.8L1063.0 535.2L1072.2 531.0L1073.0 529.1L1074.8 521.0L1073.0 512.2L1072.8 511.0L1067.7 501.0L1063.0 495.7L1053.0 491.8L1051.0 491.0L1043.9 481.0L1053.0 471.7L1053.5 471.0L1053.0 463.5L1052.8 461.0L1043.0 455.7L1033.0 455.5L1023.0 456.2L1013.0 456.2L1003.0 456.0L993.0 455.4L983.0 453.3L973.6 451.0L973.0 450.8L963.0 449.0L953.0 448.8ZM1153.0 550.4L1147.5 551.0L1143.0 551.5L1133.0 554.2L1123.0 560.5L1122.5 561.0L1118.0 571.0L1115.1 581.0L1113.0 583.1L1103.0 589.3L1100.3 591.0L1093.0 594.7L1087.8 601.0L1083.0 609.0L1082.1 611.0L1079.4 621.0L1078.3 631.0L1077.4 641.0L1074.5 651.0L1073.0 653.5L1063.0 660.6L1061.0 661.0L1053.0 662.5L1043.0 665.5L1033.8 671.0L1033.0 671.7L1024.2 681.0L1023.0 683.5L1018.7 691.0L1019.0 701.0L1023.0 707.9L1024.9 711.0L1033.0 717.2L1042.8 721.0L1043.0 721.1L1053.0 724.2L1063.0 727.4L1073.0 728.4L1083.0 727.9L1093.0 727.9L1103.0 728.4L1113.0 727.4L1123.0 723.3L1126.0 721.0L1133.0 715.8L1138.5 711.0L1143.0 705.5L1148.2 701.0L1153.0 694.4L1156.5 691.0L1163.0 684.0L1166.0 681.0L1173.0 674.1L1176.1 671.0L1183.0 664.0L1186.0 661.0L1193.0 653.6L1194.9 651.0L1199.9 641.0L1203.0 631.0L1203.0 631.0L1206.9 621.0L1212.3 611.0L1213.0 609.2L1216.6 601.0L1217.7 591.0L1217.8 581.0L1216.0 571.0L1213.0 567.6L1206.4 561.0L1203.0 559.1L1193.0 553.9L1183.2 551.0L1183.0 550.9L1173.0 550.2L1163.0 550.2ZM1253.0 650.9L1252.8 651.0L1243.0 654.7L1233.0 659.6L1229.4 661.0L1223.0 664.2L1213.0 669.5L1210.8 671.0L1203.0 677.9L1199.9 681.0L1193.0 688.0L1190.0 691.0L1183.0 697.3L1179.1 701.0L1173.0 705.9L1168.7 711.0L1165.2 721.0L1168.0 731.0L1173.0 736.6L1177.5 741.0L1183.0 745.8L1191.5 751.0L1193.0 751.7L1203.0 754.4L1213.0 755.5L1223.0 756.1L1233.0 757.5L1243.0 759.8L1253.0 760.7L1263.0 758.6L1273.0 752.3L1274.5 751.0L1283.0 741.1L1283.2 741.0L1293.0 737.2L1303.0 737.4L1310.9 741.0L1313.0 741.8L1323.0 748.2L1326.3 751.0L1333.0 756.0L1338.2 761.0L1343.0 766.0L1347.3 771.0L1353.0 776.9L1357.2 781.0L1363.0 785.1L1373.0 786.6L1383.0 781.9L1384.1 781.0L1390.3 771.0L1393.0 761.0L1393.0 761.0L1395.7 751.0L1402.5 741.0L1403.0 740.5L1413.0 736.0L1423.0 733.1L1425.1 731.0L1431.3 721.0L1433.0 715.0L1433.9 711.0L1433.0 706.0L1430.5 701.0L1423.0 697.0L1413.0 696.0L1403.0 696.0L1393.0 693.3L1391.1 691.0L1386.5 681.0L1384.8 671.0L1383.0 665.5L1381.6 661.0L1373.0 653.3L1364.5 651.0L1363.0 650.7L1353.0 650.2L1343.0 650.2L1333.0 650.2L1323.0 650.2L1313.0 650.1L1303.0 649.8L1293.0 649.2L1283.0 648.7L1273.0 648.7L1263.0 649.2ZM613.0 399.4L607.5 401.0L603.0 402.2L593.0 408.6L590.2 411.0L583.0 417.9L580.7 421.0L575.3 431.0L573.1 441.0L573.3 451.0L577.4 461.0L583.0 465.9L593.0 469.6L603.0 470.7L605.4 471.0L613.0 472.1L623.0 474.5L633.0 473.6L641.3 471.0L643.0 470.4L653.0 469.3L657.3 471.0L663.0 472.8L673.0 481.0L673.0 481.0L682.6 491.0L683.0 491.5L691.0 501.0L693.0 502.9L703.0 509.3L713.0 509.3L723.0 502.9L725.0 501.0L732.9 491.0L733.0 490.8L743.0 481.0L743.0 481.0L753.0 473.0L754.9 471.0L755.0 461.0L753.0 459.0L743.0 451.8L741.9 451.0L733.0 446.3L724.2 441.0L723.0 440.5L713.0 437.6L703.0 436.7L693.0 437.0L683.0 437.2L673.0 436.8L663.0 433.9L659.2 431.0L653.0 427.9L644.2 421.0L643.0 420.2L634.1 411.0L633.0 409.0L623.6 401.0L623.0 400.5ZM933.0 550.9L932.8 551.0L923.0 554.0L913.0 558.9L908.8 561.0L903.0 568.1L901.3 571.0L903.0 578.4L903.5 581.0L906.7 591.0L911.6 601.0L913.0 603.0L921.7 611.0L923.0 611.8L933.0 614.8L943.0 616.9L949.5 621.0L953.0 622.3L963.0 626.1L973.0 626.1L983.0 622.2L985.7 621.0L993.0 614.1L997.8 611.0L1003.0 608.4L1013.0 604.9L1018.1 601.0L1023.0 595.2L1025.7 591.0L1025.7 581.0L1023.0 577.6L1015.2 571.0L1013.0 570.1L1003.0 569.3L993.3 571.0L993.0 571.1L983.0 571.4L982.4 571.0L973.0 565.3L968.6 561.0L963.0 556.5L953.0 551.7L948.8 551.0L943.0 549.9Z"/>
<path fill="#7e03a8" fill-rule="evenodd" d="M645.5 281.0L653.0 281.0L663.0 281.0L673.0 281.0L674.1 281.0L674.1 291.0L673.0 295.8L671.5 301.0L663.0 307.1L653.0 306.5L647.5 301.0L645.5 291.0ZM698.7 281.0L703.0 281.0L713.0 281.0L713.8 281.0L713.8 291.0L713.0 297.7L710.5 301.0L703.0 303.3L700.8 301.0L698.7 291.0ZM761.9 281.0L763.0 281.0L773.0 281.0L781.8 281.0L781.8 291.0L780.9 301.0L775.4 311.0L773.0 312.8L770.6 311.0L763.0 302.6L762.5 301.0L761.9 291.0ZM818.0 281.0L823.0 281.0L833.0 281.0L843.0 281.0L853.0 281.0L863.0 281.0L873.0 281.0L878.0 281.0L878.0 291.0L877.1 301.0L873.0 309.4L871.4 311.0L863.0 314.5L853.0 315.3L843.0 315.3L833.0 314.5L824.6 311.0L823.0 309.4L818.9 301.0L818.0 291.0ZM1034.0 281.0L1043.0 281.0L1053.0 281.0L1062.0 281.0L1062.0 291.0L1062.3 301.0L1063.0 304.5L1065.4 311.0L1073.0 316.4L1077.8 321.0L1083.0 327.2L1087.2 331.0L1093.0 334.0L1103.0 335.3L1113.0 336.5L1123.0 338.4L1133.0 339.6L1143.0 340.6L1144.4 341.0L1153.0 344.2L1162.2 351.0L1163.0 351.8L1173.0 360.5L1173.5 361.0L1182.5 371.0L1183.0 371.5L1193.0 380.5L1193.5 381.0L1203.0 390.7L1203.5 391.0L1213.0 394.4L1223.0 395.2L1233.0 395.5L1243.0 396.5L1252.8 401.0L1253.0 401.1L1262.7 411.0L1263.0 411.3L1272.7 421.0L1273.0 421.5L1277.2 431.0L1278.9 441.0L1283.0 449.4L1284.6 451.0L1293.0 455.1L1303.0 456.8L1312.5 461.0L1313.0 461.3L1322.5 471.0L1323.0 471.5L1333.0 480.5L1333.5 481.0L1342.2 491.0L1343.0 491.8L1350.5 501.0L1353.0 504.2L1358.6 511.0L1363.0 514.5L1373.0 514.3L1376.6 511.0L1380.0 501.0L1379.4 491.0L1378.3 481.0L1378.9 471.0L1383.0 462.6L1384.6 461.0L1393.0 456.9L1403.0 456.8L1412.5 461.0L1413.0 461.3L1423.0 470.7L1423.5 471.0L1433.0 475.2L1443.0 475.1L1451.4 471.0L1453.0 469.4L1457.1 461.0L1458.8 451.0L1463.0 441.0L1463.0 441.0L1470.7 431.0L1473.0 428.5L1481.4 421.0L1483.0 420.0L1493.0 420.4L1493.9 421.0L1499.8 431.0L1499.4 441.0L1498.3 451.0L1498.0 461.0L1498.0 471.0L1498.9 481.0L1503.0 489.4L1504.6 491.0L1513.0 495.1L1523.0 496.0L1533.0 496.0L1543.0 495.1L1551.4 491.0L1553.0 489.4L1557.1 481.0L1558.0 471.0L1558.0 461.0L1557.2 451.0L1553.0 441.5L1552.7 441.0L1543.0 431.5L1542.5 431.0L1533.5 421.0L1533.0 420.5L1523.0 411.5L1522.5 411.0L1513.2 401.0L1513.0 400.9L1503.0 395.4L1493.0 393.5L1483.0 393.5L1473.0 394.7L1463.0 395.7L1453.0 394.8L1447.2 391.0L1443.0 387.2L1438.0 381.0L1433.0 376.1L1425.9 371.0L1423.0 368.1L1417.9 361.0L1413.0 356.1L1406.2 351.0L1403.0 348.5L1393.8 341.0L1393.0 340.2L1383.0 331.5L1382.5 331.0L1373.0 321.3L1372.5 321.0L1363.0 316.8L1353.0 316.9L1344.6 321.0L1343.0 322.6L1339.0 331.0L1338.0 341.0L1338.0 351.0L1338.9 361.0L1343.0 369.0L1345.6 371.0L1353.0 373.7L1363.0 373.5L1373.0 373.5L1383.0 375.0L1393.0 377.1L1403.0 379.4L1406.6 381.0L1413.0 387.4L1414.6 391.0L1415.7 401.0L1413.0 408.4L1411.0 411.0L1403.0 415.1L1393.0 414.8L1387.0 411.0L1383.0 408.0L1374.6 401.0L1373.0 400.0L1363.0 400.4L1362.2 401.0L1356.3 411.0L1355.7 421.0L1353.0 428.4L1351.0 431.0L1343.0 435.1L1333.0 435.2L1324.6 431.0L1323.0 429.4L1318.9 421.0L1317.1 411.0L1313.0 402.6L1311.4 401.0L1303.0 396.9L1293.0 395.2L1284.6 391.0L1283.0 389.4L1278.8 381.0L1278.0 371.0L1278.0 361.0L1278.0 351.0L1278.0 341.0L1277.9 331.0L1277.6 321.0L1277.3 311.0L1277.1 301.0L1277.0 291.0L1277.0 281.0L1283.0 281.0L1293.0 281.0L1303.0 281.0L1313.0 281.0L1323.0 281.0L1333.0 281.0L1343.0 281.0L1353.0 281.0L1363.0 281.0L1373.0 281.0L1383.0 281.0L1393.0 281.0L1403.0 281.0L1413.0 281.0L1423.0 281.0L1433.0 281.0L1443.0 281.0L1453.0 281.0L1463.0 281.0L1473.0 281.0L1483.0 281.0L1493.0 281.0L1503.0 281.0L1513.0 281.0L1523.0 281.0L1533.0 281.0L1543.0 281.0L1553.0 281.0L1563.0 281.0L1573.0 281.0L1583.0 281.0L1593.0 281.0L1603.0 281.0L1613.0 281.0L1623.0 281.0L1633.0 281.0L1643.0 281.0L1653.0 281.0L1663.0 281.0L1673.0 281.0L1683.0 281.0L1693.0 281.0L1703.0 281.0L1713.0 281.0L1723.0 281.0L1733.0 281.0L1743.0 281.0L1753.0 281.0L1763.0 281.0L1773.0 281.0L1783.0 281.0L1793.0 281.0L1803.0 281.0L1813.0 281.0L1823.0 281.0L1833.0 281.0L1843.0 281.0L1853.0 281.0L1863.0 281.0L1873.0 281.0L1883.0 281.0L1893.0 281.0L1903.0 281.0L1913.0 281.0L1923.0 281.0L1933.0 281.0L1943.0 281.0L1953.0 281.0L1963.0 281.0L1973.0 281.0L1983.0 281.0L1993.0 281.0L2003.0 281.0L2013.0 281.0L2023.0 281.0L2033.0 281.0L2043.0 281.0L2053.0 281.0L2063.0 281.0L2073.0 281.0L2083.0 281.0L2093.0 281.0L2103.0 281.0L2113.0 281.0L2123.0 281.0L2133.0 281.0L2143.0 281.0L2153.0 281.0L2153.0 291.0L2153.0 301.0L2153.0 311.0L2153.0 321.0L2153.0 331.0L2153.0 341.0L2153.0 351.0L2153.0 361.0L2153.0 371.0L2153.0 372.0L2143.0 372.0L2133.0 372.8L2123.0 377.1L2119.4 381.0L2119.4 391.0L2123.0 394.9L2133.0 399.2L2143.0 400.0L2153.0 400.0L2153.0 401.0L2153.0 411.0L2153.0 421.0L2153.0 431.0L2153.0 441.0L2153.0 451.0L2153.0 456.0L2143.0 456.0L2133.0 456.8L2123.0 461.0L2123.0 461.0L2113.0 468.5L2109.8 471.0L2103.0 476.6L2099.3 481.0L2099.6 491.0L2103.0 494.0L2113.0 497.2L2123.0 497.0L2133.0 496.2L2143.0 496.0L2153.0 496.0L2153.0 501.0L2153.0 511.0L2153.0 521.0L2153.0 531.0L2153.0 541.0L2153.0 551.0L2153.0 561.0L2153.0 571.0L2153.0 581.0L2153.0 591.0L2153.0 601.0L2153.0 611.0L2153.0 621.0L2153.0 631.0L2153.0 641.0L2153.0 651.0L2153.0 661.0L2153.0 671.0L2153.0 676.7L2143.0 676.7L2133.0 676.7L2123.0 676.7L2113.0 677.4L2103.0 681.0L2103.0 681.0L2093.0 688.8L2090.3 691.0L2083.0 697.4L2080.1 701.0L2082.7 711.0L2083.0 711.3L2093.0 716.4L2103.0 716.6L2113.0 715.8L2123.0 715.8L2133.0 715.9L2143.0 716.0L2153.0 716.0L2153.0 721.0L2153.0 731.0L2153.0 741.0L2153.0 751.0L2153.0 761.0L2153.0 771.0L2153.0 781.0L2153.0 791.0L2153.0 801.0L2153.0 811.0L2153.0 815.3L2143.0 815.3L2133.0 815.3L2123.0 815.3L2113.0 814.5L2103.5 811.0L2103.0 810.7L2093.0 801.3L2092.5 801.0L2083.0 797.4L2073.0 796.7L2063.0 796.5L2053.0 797.0L2043.0 799.4L2035.4 801.0L2033.0 801.5L2023.0 801.5L2021.2 801.0L2013.0 798.7L2003.0 794.2L1993.0 791.4L1989.7 791.0L1983.0 790.0L1973.0 789.5L1963.0 790.5L1958.4 791.0L1953.0 791.5L1951.4 791.0L1943.0 781.6L1942.8 781.0L1940.3 771.0L1933.6 761.0L1933.0 760.5L1923.0 758.6L1919.5 761.0L1914.8 771.0L1913.0 778.1L1912.1 781.0L1903.0 787.4L1893.0 788.7L1883.0 789.4L1873.0 790.1L1863.0 790.1L1853.0 788.7L1843.0 783.5L1840.4 781.0L1835.4 771.0L1833.0 768.7L1823.0 763.6L1813.0 762.2L1803.0 761.9L1793.0 761.8L1783.0 761.8L1773.0 761.8L1763.0 761.5L1757.8 761.0L1753.0 760.5L1743.0 757.6L1733.0 752.5L1730.5 751.0L1723.0 743.5L1720.1 741.0L1715.9 731.0L1713.0 725.5L1709.8 721.0L1703.0 714.0L1700.2 711.0L1693.0 704.0L1688.9 701.0L1683.0 697.3L1673.0 694.3L1667.8 691.0L1663.0 684.3L1661.6 681.0L1658.8 671.0L1653.1 661.0L1653.0 660.9L1643.0 655.6L1633.0 654.9L1623.0 658.3L1620.1 661.0L1621.5 671.0L1623.0 672.5L1631.3 681.0L1633.0 690.3L1633.1 691.0L1633.0 691.1L1623.0 696.6L1613.0 696.5L1603.0 695.5L1593.0 695.3L1583.0 695.3L1573.0 695.2L1563.0 695.1L1553.0 694.9L1543.0 694.8L1533.0 695.3L1523.0 698.4L1519.8 701.0L1513.0 704.6L1504.2 711.0L1503.0 711.9L1494.2 721.0L1493.0 725.5L1491.2 731.0L1490.8 741.0L1492.4 751.0L1493.0 753.1L1495.0 761.0L1500.5 771.0L1503.0 773.6L1509.8 781.0L1513.0 785.5L1515.9 791.0L1517.3 801.0L1517.5 811.0L1519.1 821.0L1523.0 827.9L1524.9 831.0L1533.0 836.5L1543.0 839.7L1553.0 840.8L1558.0 841.0L1563.0 841.2L1573.0 841.9L1583.0 843.2L1593.0 845.4L1603.0 848.2L1613.0 850.2L1621.3 851.0L1623.0 851.2L1633.0 853.7L1643.0 858.0L1653.0 861.0L1653.0 861.0L1663.0 861.1L1663.3 861.0L1673.0 858.8L1683.0 856.9L1693.0 858.2L1697.4 861.0L1703.0 867.6L1704.8 871.0L1707.8 881.0L1710.1 891.0L1712.6 901.0L1713.0 902.0L1717.5 911.0L1723.0 917.6L1727.0 921.0L1733.0 927.0L1740.0 931.0L1743.0 933.2L1753.0 936.0L1763.0 936.5L1773.0 936.2L1783.0 935.8L1793.0 935.5L1803.0 936.0L1813.0 938.0L1823.0 940.3L1828.8 941.0L1833.0 941.5L1843.0 941.5L1847.2 941.0L1853.0 940.3L1863.0 937.7L1873.0 934.2L1883.0 931.1L1883.4 931.0L1893.0 927.2L1902.3 921.0L1903.0 920.4L1912.2 911.0L1913.0 910.2L1923.0 901.9L1925.1 901.0L1933.0 897.2L1943.0 897.6L1949.1 901.0L1953.0 903.8L1960.6 911.0L1963.0 913.3L1973.0 918.9L1979.2 921.0L1983.0 922.6L1993.0 927.2L2000.7 931.0L2003.0 932.3L2013.0 935.5L2023.0 937.8L2028.9 941.0L2033.0 944.0L2040.1 951.0L2043.0 953.8L2050.5 961.0L2053.0 963.5L2060.2 971.0L2063.0 973.6L2073.0 979.8L2078.7 981.0L2083.0 982.1L2086.1 981.0L2093.0 979.7L2103.0 974.6L2109.1 971.0L2113.0 968.1L2123.0 961.7L2124.8 961.0L2133.0 957.2L2143.0 956.0L2153.0 956.0L2153.0 961.0L2153.0 971.0L2153.0 981.0L2153.0 991.0L2153.0 1001.0L2153.0 1011.0L2153.0 1021.0L2153.0 1031.0L2153.0 1041.0L2153.0 1051.0L2153.0 1061.0L2153.0 1071.0L2153.0 1081.0L2153.0 1091.0L2153.0 1101.0L2153.0 1111.0L2153.0 1121.0L2153.0 1131.0L2153.0 1141.0L2153.0 1151.0L2153.0 1161.0L2153.0 1171.0L2153.0 1181.0L2153.0 1191.0L2153.0 1201.0L2153.0 1211.0L2153.0 1221.0L2153.0 1231.0L2153.0 1241.0L2153.0 1251.0L2143.0 1251.0L2133.0 1251.0L2123.0 1251.0L2113.0 1251.0L2103.0 1251.0L2093.0 1251.0L2083.0 1251.0L2073.0 1251.0L2063.0 1251.0L2053.0 1251.0L2043.0 1251.0L2033.0 1251.0L2023.0 1251.0L2013.0 1251.0L2003.0 1251.0L1993.0 1251.0L1983.0 1251.0L1973.0 1251.0L1963.0 1251.0L1953.0 1251.0L1943.0 1251.0L1933.0 1251.0L1923.0 1251.0L1913.0 1251.0L1903.0 1251.0L1893.0 1251.0L1883.0 1251.0L1873.0 1251.0L1863.0 1251.0L1853.0 1251.0L1843.0 1251.0L1833.0 1251.0L1823.0 1251.0L1813.0 1251.0L1803.0 1251.0L1793.0 1251.0L1783.0 1251.0L1773.0 1251.0L1763.0 1251.0L1753.0 1251.0L1743.0 1251.0L1733.0 1251.0L1723.0 1251.0L1713.0 1251.0L1703.0 1251.0L1693.0 1251.0L1683.0 1251.0L1673.0 1251.0L1663.0 1251.0L1653.0 1251.0L1643.0 1251.0L1633.0 1251.0L1623.0 1251.0L1613.0 1251.0L1603.0 1251.0L1593.0 1251.0L1583.0 1251.0L1573.0 1251.0L1563.0 1251.0L1553.0 1251.0L1543.0 1251.0L1533.0 1251.0L1523.0 1251.0L1513.0 1251.0L1503.0 1251.0L1493.0 1251.0L1483.0 1251.0L1473.0 1251.0L1463.0 1251.0L1453.0 1251.0L1443.0 1251.0L1433.0 1251.0L1423.0 1251.0L1413.0 1251.0L1403.0 1251.0L1393.0 1251.0L1383.0 1251.0L1373.0 1251.0L1363.0 1251.0L1353.0 1251.0L1343.0 1251.0L1333.0 1251.0L1323.0 1251.0L1313.0 1251.0L1303.0 1251.0L1293.0 1251.0L1283.0 1251.0L1273.0 1251.0L1263.0 1251.0L1253.0 1251.0L1243.0 1251.0L1233.0 1251.0L1223.0 1251.0L1213.0 1251.0L1203.0 1251.0L1193.0 1251.0L1183.0 1251.0L1173.0 1251.0L1163.0 1251.0L1153.0 1251.0L1143.0 1251.0L1133.0 1251.0L1123.0 1251.0L1113.0 1251.0L1103.0 1251.0L1093.0 1251.0L1083.0 1251.0L1073.0 1251.0L1063.0 1251.0L1053.0 1251.0L1043.0 1251.0L1033.0 1251.0L1023.0 1251.0L1013.0 1251.0L1003.0 1251.0L993.0 1251.0L983.0 1251.0L973.0 1251.0L963.0 1251.0L953.0 1251.0L943.0 1251.0L933.0 1251.0L923.0 1251.0L913.0 1251.0L903.0 1251.0L893.0 1251.0L883.0 1251.0L873.0 1251.0L863.0 1251.0L853.0 1251.0L843.0 1251.0L833.0 1251.0L823.0 1251.0L813.0 1251.0L803.0 1251.0L793.0 1251.0L783.0 1251.0L773.0 1251.0L763.0 1251.0L753.0 1251.0L743.0 1251.0L733.0 1251.0L723.0 1251.0L713.0 1251.0L703.0 1251.0L693.0 1251.0L683.0 1251.0L673.0 1251.0L663.0 1251.0L653.0 1251.0L643.0 1251.0L633.0 1251.0L623.0 1251.0L613.0 1251.0L603.0 1251.0L593.0 1251.0L583.0 1251.0L573.0 1251.0L563.0 1251.0L553.0 1251.0L543.0 1251.0L533.0 1251.0L523.0 1251.0L513.0 1251.0L503.0 1251.0L493.0 1251.0L483.0 1251.0L473.0 1251.0L463.0 1251.0L453.0 1251.0L443.0 1251.0L433.0 1251.0L423.0 1251.0L413.0 1251.0L403.0 1251.0L393.0 1251.0L383.0 1251.0L373.0 1251.0L363.0 1251.0L353.0 1251.0L343.0 1251.0L343.0 1241.0L343.0 1231.0L343.0 1221.0L343.0 1211.0L343.0 1201.0L343.0 1191.0L343.0 1181.0L343.0 1171.0L343.0 1161.0L343.0 1151.0L343.0 1141.0L343.0 1131.0L343.0 1121.0L343.0 1111.0L343.0 1101.0L343.0 1091.0L343.0 1081.0L343.0 1071.0L343.0 1061.0L343.0 1051.0L343.0 1041.0L343.0 1031.0L343.0 1021.0L343.0 1011.0L343.0 1001.0L343.0 991.0L343.0 981.0L343.0 971.0L343.0 961.0L343.0 951.0L343.0 941.0L343.0 931.0L343.0 921.0L343.0 911.0L343.0 901.0L343.0 891.0L343.0 881.0L343.0 871.0L343.0 861.0L343.0 851.0L343.0 841.0L343.0 831.0L343.0 821.0L343.0 811.0L343.0 801.0L343.0 791.0L343.0 781.0L343.0 771.0L343.0 761.0L343.0 751.0L343.0 741.0L343.0 731.0L343.0 721.0L343.0 711.0L343.0 701.0L343.0 691.0L343.0 681.0L343.0 671.0L343.0 661.0L343.0 651.0L343.0 641.0L343.0 631.0L343.0 621.0L343.0 611.0L343.0 601.0L343.0 591.0L343.0 581.0L343.0 571.0L343.0 561.0L343.0 551.0L343.0 541.0L343.0 531.0L343.0 521.0L343.0 511.0L343.0 501.0L343.0 491.0L343.0 481.0L343.0 471.0L343.0 461.0L343.0 451.0L343.0 441.0L343.0 431.0L343.0 421.0L343.0 411.0L343.0 404.8L353.0 404.8L363.0 405.1L373.0 406.7L383.0 409.2L390.5 411.0L393.0 411.7L403.0 413.3L413.0 412.3L416.2 411.0L423.0 408.0L433.0 402.0L436.0 401.0L443.0 398.9L447.2 401.0L453.0 404.8L458.8 411.0L463.0 414.3L470.3 421.0L473.0 422.6L483.0 428.9L493.0 428.9L503.0 422.9L506.9 421.0L513.0 417.0L523.0 415.5L533.0 415.9L543.0 416.9L553.0 420.5L553.6 421.0L559.6 431.0L561.8 441.0L562.8 451.0L563.0 451.9L564.6 461.0L571.4 471.0L573.0 472.3L583.0 478.1L593.0 481.0L593.0 481.0L603.0 482.6L613.0 485.6L623.0 489.2L633.0 488.2L643.0 483.9L653.0 483.4L663.0 489.8L664.2 491.0L672.4 501.0L673.0 501.9L680.6 511.0L683.0 513.0L693.0 518.2L703.0 520.5L713.0 520.8L723.0 518.8L733.0 513.3L735.4 511.0L743.0 502.1L743.8 501.0L753.0 491.5L753.4 491.0L763.0 482.8L764.6 481.0L770.5 471.0L771.4 461.0L767.0 451.0L763.0 446.8L753.5 441.0L753.0 440.7L743.0 435.2L733.0 431.3L732.0 431.0L723.0 427.5L713.0 425.9L703.0 425.2L693.0 424.5L683.0 422.5L677.6 421.0L683.0 417.8L693.0 415.8L699.9 411.0L703.0 410.1L713.0 407.5L723.0 407.1L733.0 408.4L743.0 410.7L744.4 411.0L753.0 413.4L763.0 416.2L773.0 420.7L773.8 421.0L783.0 424.2L793.0 423.7L801.2 421.0L803.0 420.4L806.6 421.0L813.0 422.9L819.5 431.0L823.0 434.8L828.3 441.0L833.0 445.7L840.3 451.0L843.0 453.0L853.0 456.6L863.0 458.0L871.4 461.0L873.0 462.6L877.1 471.0L878.9 481.0L883.0 489.4L884.6 491.0L893.0 495.1L903.0 498.5L905.4 501.0L913.0 509.0L914.4 511.0L923.0 518.5L926.6 521.0L933.0 529.4L934.3 531.0L933.0 532.5L923.0 540.2L921.8 541.0L913.0 544.4L903.0 548.3L896.0 551.0L893.0 552.1L883.0 558.8L880.9 561.0L882.5 571.0L883.0 571.5L890.0 581.0L892.2 591.0L887.9 601.0L883.0 607.7L880.4 611.0L880.7 621.0L883.0 622.9L893.0 627.5L903.0 628.7L913.0 629.2L923.0 629.7L933.0 629.6L943.0 629.9L947.3 631.0L953.0 632.2L963.0 634.5L973.0 634.5L983.0 632.4L991.9 631.0L993.0 630.8L995.3 631.0L1003.0 632.0L1013.0 633.8L1023.0 632.4L1026.3 631.0L1033.0 626.2L1036.7 621.0L1039.3 611.0L1043.0 605.0L1046.0 601.0L1053.0 592.7L1054.2 591.0L1054.1 581.0L1053.0 579.2L1045.5 571.0L1043.0 569.0L1033.0 563.0L1028.0 561.0L1023.0 558.7L1013.0 557.1L1003.0 557.0L993.0 556.5L983.0 552.0L981.8 551.0L983.0 548.5L993.0 542.5L1003.0 543.9L1013.0 545.1L1023.0 545.5L1033.0 546.0L1043.0 546.9L1053.0 548.9L1059.0 551.0L1063.0 553.8L1073.0 560.9L1073.1 561.0L1078.6 571.0L1079.6 581.0L1076.8 591.0L1073.2 601.0L1073.0 601.6L1069.5 611.0L1067.9 621.0L1067.3 631.0L1065.7 641.0L1063.0 645.2L1053.0 649.0L1046.1 651.0L1043.0 651.6L1033.0 655.2L1023.3 661.0L1023.0 661.2L1013.0 668.5L1008.4 671.0L1003.0 673.7L993.0 675.0L983.0 678.6L980.4 681.0L982.4 691.0L983.0 691.7L992.3 701.0L993.0 701.9L1001.3 711.0L1003.0 713.1L1010.5 721.0L1013.0 723.5L1021.6 731.0L1023.0 732.0L1033.0 735.6L1043.0 736.9L1053.0 738.7L1063.0 739.8L1073.0 738.5L1083.0 736.5L1093.0 736.4L1103.0 738.2L1113.0 739.4L1123.0 737.9L1133.0 731.7L1133.9 731.0L1143.0 724.0L1153.0 727.9L1154.3 731.0L1161.6 741.0L1163.0 742.3L1172.3 751.0L1173.0 751.7L1183.0 759.4L1187.8 761.0L1193.0 762.5L1203.0 764.0L1213.0 764.6L1223.0 765.2L1233.0 766.9L1243.0 769.5L1249.0 771.0L1253.0 772.3L1263.0 775.0L1273.0 774.6L1282.9 771.0L1283.0 770.9L1293.0 765.2L1301.7 761.0L1303.0 760.3L1313.0 759.4L1317.5 761.0L1323.0 763.2L1332.5 771.0L1333.0 771.4L1343.0 780.7L1343.3 781.0L1353.0 788.7L1356.4 791.0L1363.0 794.2L1373.0 795.3L1383.0 793.0L1387.8 791.0L1393.0 787.3L1399.9 781.0L1403.0 773.9L1404.7 771.0L1410.9 761.0L1413.0 758.9L1423.0 756.0L1433.0 751.6L1433.6 751.0L1440.7 741.0L1443.0 734.8L1444.6 731.0L1449.2 721.0L1453.0 713.2L1454.5 711.0L1457.4 701.0L1457.4 691.0L1457.2 681.0L1457.5 671.0L1457.9 661.0L1455.4 651.0L1453.0 648.9L1443.0 642.7L1438.6 641.0L1433.0 639.3L1423.0 637.3L1413.0 636.7L1403.0 636.7L1393.0 636.6L1383.0 636.2L1373.0 635.8L1363.0 635.5L1353.0 635.4L1343.0 635.4L1333.0 635.4L1323.0 635.2L1313.0 634.3L1304.2 631.0L1303.0 629.8L1298.6 621.0L1296.8 611.0L1293.0 601.0L1293.0 601.0L1285.5 591.0L1283.0 587.8L1277.0 581.0L1273.0 577.8L1263.0 580.5L1262.6 581.0L1259.8 591.0L1260.4 601.0L1260.6 611.0L1258.7 621.0L1253.5 631.0L1253.0 631.4L1243.0 640.1L1242.1 641.0L1233.0 646.1L1223.0 647.5L1217.8 641.0L1219.1 631.0L1223.0 623.9L1225.4 621.0L1231.8 611.0L1233.0 606.5L1234.6 601.0L1235.4 591.0L1236.2 581.0L1236.7 571.0L1233.2 561.0L1233.0 560.7L1223.0 553.3L1217.4 551.0L1213.0 549.0L1203.0 543.9L1196.7 541.0L1193.0 538.5L1183.0 535.7L1173.0 535.4L1163.0 535.4L1153.0 535.1L1143.0 535.0L1133.0 535.1L1123.0 535.4L1113.0 535.0L1103.5 531.0L1103.0 530.7L1095.2 521.0L1093.0 518.2L1089.2 511.0L1084.6 501.0L1083.0 496.8L1081.2 491.0L1078.9 481.0L1077.9 471.0L1074.4 461.0L1073.0 459.2L1066.7 451.0L1063.0 447.3L1054.9 441.0L1053.0 439.6L1043.0 435.9L1033.0 435.2L1023.0 435.3L1013.0 435.3L1003.0 435.3L993.0 434.5L983.5 431.0L983.0 430.7L973.0 421.3L972.5 421.0L963.0 416.8L953.0 415.2L943.5 411.0L943.0 410.7L935.3 401.0L933.0 398.1L929.2 391.0L924.6 381.0L923.0 376.8L921.3 371.0L919.3 361.0L918.7 351.0L918.5 341.0L919.1 331.0L923.0 322.6L924.6 321.0L933.0 316.9L943.0 316.8L952.5 321.0L953.0 321.3L963.0 330.7L963.5 331.0L973.0 335.2L983.0 336.0L993.0 336.0L1003.0 337.2L1008.8 341.0L1013.0 344.8L1018.4 351.0L1023.0 354.8L1033.0 354.9L1037.9 351.0L1043.0 346.2L1047.6 341.0L1053.0 333.2L1054.4 331.0L1055.2 321.0L1053.0 318.7L1043.0 312.7L1040.9 311.0L1035.0 301.0L1034.0 291.0ZM1503.0 635.0L1496.8 641.0L1496.5 651.0L1503.0 656.9L1513.0 657.4L1519.5 651.0L1519.5 641.0L1513.0 635.3ZM1603.0 434.4L1596.4 441.0L1596.2 451.0L1603.0 459.0L1605.8 461.0L1613.0 468.9L1614.2 471.0L1616.6 481.0L1617.7 491.0L1618.9 501.0L1623.0 509.4L1624.6 511.0L1633.0 515.1L1643.0 516.0L1653.0 516.0L1663.0 514.0L1667.1 511.0L1673.0 505.1L1676.1 501.0L1677.1 491.0L1673.0 482.6L1671.4 481.0L1663.0 476.9L1653.0 474.8L1647.2 471.0L1643.0 467.2L1638.1 461.0L1633.0 455.7L1628.2 451.0L1623.0 444.2L1620.9 441.0L1613.0 434.2ZM1683.0 394.5L1676.5 401.0L1676.5 411.0L1683.0 417.5L1693.0 417.5L1699.1 411.0L1699.4 401.0L1693.0 394.5ZM1723.0 574.6L1717.7 581.0L1717.9 591.0L1723.0 596.4L1733.0 593.0L1734.7 591.0L1737.6 581.0L1733.0 575.2ZM1743.0 315.4L1736.7 321.0L1736.5 331.0L1743.0 336.6L1753.0 336.5L1757.6 331.0L1755.6 321.0L1753.0 318.0ZM1763.0 477.1L1758.0 481.0L1753.0 485.6L1747.6 491.0L1743.0 496.1L1739.2 501.0L1739.6 511.0L1743.0 514.0L1753.0 517.0L1763.0 516.8L1773.0 516.9L1783.0 517.9L1793.0 518.7L1803.0 518.9L1813.0 519.2L1823.0 518.9L1833.0 514.9L1836.6 511.0L1836.6 501.0L1833.0 497.1L1823.0 492.8L1813.0 492.0L1803.0 492.0L1793.2 491.0L1793.0 491.0L1783.0 485.1L1778.1 481.0L1773.0 477.1ZM1943.0 497.2L1938.0 501.0L1933.0 505.1L1923.0 511.0L1922.9 511.0L1913.0 512.8L1903.0 517.1L1899.4 521.0L1899.4 531.0L1903.0 534.3L1913.0 538.2L1923.0 539.7L1926.2 541.0L1933.0 543.2L1943.0 547.6L1953.0 546.3L1958.6 541.0L1959.7 531.0L1959.4 521.0L1959.2 511.0L1955.8 501.0L1953.0 497.6ZM1983.0 354.5L1976.5 361.0L1976.5 371.0L1983.0 377.5L1993.0 377.5L1999.5 371.0L1999.5 361.0L1993.0 354.5ZM2043.0 517.1L2039.4 521.0L2039.7 531.0L2043.0 534.3L2053.0 538.2L2063.0 537.5L2073.0 531.5L2073.5 531.0L2075.5 521.0L2073.0 517.5L2063.0 512.8L2053.0 512.8ZM1443.0 778.2L1441.1 781.0L1443.0 783.8L1448.6 791.0L1453.0 792.9L1463.0 795.3L1473.0 793.6L1476.3 791.0L1476.8 781.0L1473.0 777.1L1463.0 772.9L1453.0 772.9ZM1923.0 658.0L1919.6 661.0L1919.3 671.0L1923.0 675.2L1929.5 681.0L1933.0 684.8L1937.2 691.0L1941.1 701.0L1943.0 702.7L1953.0 709.1L1957.7 711.0L1963.0 712.6L1973.0 714.5L1983.0 713.8L1988.0 711.0L1993.0 706.0L1995.8 701.0L1996.4 691.0L1993.0 682.6L1991.4 681.0L1983.0 677.5L1973.0 676.0L1963.0 672.1L1961.6 671.0L1953.0 663.9L1949.8 661.0L1943.0 656.7L1933.0 654.9ZM1118.0 281.0L1123.0 281.0L1133.0 281.0L1143.0 281.0L1153.0 281.0L1163.0 281.0L1173.0 281.0L1178.0 281.0L1178.0 291.0L1177.1 301.0L1173.0 309.0L1170.4 311.0L1163.0 313.7L1153.0 313.1L1143.0 312.2L1133.0 311.3L1132.1 311.0L1123.0 306.0L1119.3 301.0L1118.0 291.0ZM647.8 401.0L653.0 399.2L663.0 400.2L664.8 401.0L673.0 408.8L676.7 411.0L673.0 417.0L663.0 416.4L653.0 413.6L649.2 411.0Z"/>
<path fill="#a11b9b" fill-rule="evenodd" d="M1295.1 281.0L1303.0 281.0L1313.0 281.0L1322.0 281.0L1322.0 291.0L1321.2 301.0L1316.7 311.0L1313.0 314.6L1303.0 314.6L1299.7 311.0L1295.8 301.0L1295.1 291.0ZM1418.0 281.0L1423.0 281.0L1433.0 281.0L1443.0 281.0L1453.0 281.0L1463.0 281.0L1473.0 281.0L1483.0 281.0L1493.0 281.0L1503.0 281.0L1513.0 281.0L1523.0 281.0L1533.0 281.0L1538.0 281.0L1538.0 291.0L1538.9 301.0L1543.0 309.4L1544.6 311.0L1553.0 315.1L1563.0 316.0L1573.0 316.0L1583.0 316.0L1593.0 316.0L1603.0 316.0L1613.0 316.0L1623.0 315.7L1633.0 314.6L1643.0 312.6L1646.3 311.0L1653.0 302.1L1653.4 301.0L1654.0 291.0L1654.0 281.0L1663.0 281.0L1673.0 281.0L1682.0 281.0L1682.0 291.0L1681.3 301.0L1677.5 311.0L1673.0 315.9L1665.9 321.0L1663.0 323.9L1657.9 331.0L1653.0 336.0L1646.8 341.0L1643.0 345.2L1639.2 351.0L1638.3 361.0L1639.4 371.0L1640.0 381.0L1636.6 391.0L1633.0 394.4L1623.0 394.7L1618.6 391.0L1613.0 384.2L1610.5 381.0L1603.0 371.8L1602.2 371.0L1593.0 361.3L1592.5 361.0L1583.0 356.8L1573.0 356.0L1563.0 356.0L1553.0 356.0L1543.0 356.0L1533.0 356.0L1523.0 356.0L1513.0 355.1L1505.0 351.0L1503.0 348.4L1500.3 341.0L1499.9 331.0L1496.2 321.0L1493.0 318.1L1483.0 319.8L1481.9 321.0L1474.3 331.0L1473.0 332.4L1463.0 334.3L1458.8 331.0L1453.0 324.8L1448.8 321.0L1443.0 317.2L1433.0 315.1L1424.6 311.0L1423.0 309.4L1418.9 301.0L1418.0 291.0ZM1758.0 281.0L1763.0 281.0L1773.0 281.0L1783.0 281.0L1793.0 281.0L1798.0 281.0L1798.0 291.0L1798.3 301.0L1799.4 311.0L1800.9 321.0L1801.8 331.0L1801.2 341.0L1796.9 351.0L1793.0 354.6L1783.0 354.6L1778.8 351.0L1775.3 341.0L1774.8 331.0L1773.0 323.5L1772.5 321.0L1767.3 311.0L1763.0 304.8L1760.1 301.0L1758.0 291.0ZM1079.4 361.0L1083.0 357.4L1093.0 353.7L1103.0 353.9L1113.0 357.8L1116.6 361.0L1116.6 371.0L1113.0 374.9L1103.0 379.2L1093.0 379.4L1083.0 375.5L1079.4 371.0ZM1739.1 361.0L1743.0 358.0L1753.0 358.0L1757.3 361.0L1761.3 371.0L1762.0 381.0L1762.0 391.0L1761.8 401.0L1760.9 411.0L1758.9 421.0L1753.1 431.0L1753.0 431.1L1743.0 436.9L1733.0 438.1L1723.0 434.6L1719.7 431.0L1719.5 421.0L1723.0 416.0L1727.1 411.0L1733.0 401.0L1733.0 400.8L1734.0 391.0L1734.0 381.0L1734.8 371.0ZM1056.5 401.0L1063.0 394.4L1073.0 393.9L1079.5 401.0L1079.5 411.0L1073.0 417.5L1063.0 417.2L1056.5 411.0ZM343.0 421.0L343.0 416.5L353.0 416.5L363.0 416.9L373.0 418.3L383.0 420.3L385.5 421.0L393.0 422.8L403.0 425.2L413.0 426.3L423.0 426.1L433.0 426.1L443.0 427.3L453.0 428.9L462.4 431.0L463.0 431.1L473.0 435.4L483.0 440.5L493.0 440.7L503.0 435.6L513.0 431.3L517.0 431.0L523.0 430.4L528.5 431.0L533.0 431.5L543.0 435.4L548.0 441.0L551.5 451.0L553.0 459.8L553.2 461.0L557.4 471.0L563.0 476.9L568.0 481.0L573.0 484.9L583.0 491.0L583.0 491.0L593.0 495.5L603.0 497.2L613.0 499.5L621.2 501.0L623.0 501.3L629.9 501.0L633.0 500.9L643.0 498.9L651.5 501.0L653.0 501.6L659.5 511.0L663.0 517.7L665.0 521.0L673.0 527.7L683.0 529.8L693.0 530.1L703.0 530.4L708.8 531.0L713.0 531.6L723.0 534.7L733.0 535.1L741.1 531.0L743.0 530.0L751.2 521.0L753.0 517.9L756.4 511.0L763.0 501.6L763.5 501.0L772.8 491.0L773.0 490.8L780.2 481.0L783.0 471.1L783.1 471.0L790.2 461.0L793.0 458.8L796.1 461.0L803.0 467.2L807.2 471.0L813.0 474.2L823.0 476.5L831.9 481.0L833.0 482.1L837.6 491.0L839.5 501.0L843.0 509.4L844.6 511.0L853.0 515.1L863.0 516.9L871.4 521.0L873.0 522.6L877.1 531.0L875.7 541.0L873.0 544.0L866.5 551.0L863.0 555.3L858.8 561.0L860.5 571.0L863.0 573.4L872.0 581.0L873.0 584.1L874.5 591.0L873.0 592.8L863.9 601.0L863.0 601.9L853.0 609.0L850.0 611.0L843.0 616.6L839.7 621.0L839.7 631.0L843.0 634.1L853.0 637.1L863.0 637.2L873.0 638.7L882.4 641.0L883.0 641.2L893.0 643.0L903.0 643.5L913.0 643.5L923.0 643.3L933.0 642.3L943.0 641.1L953.0 642.6L963.0 645.0L973.0 645.0L983.0 643.9L993.0 649.0L994.6 651.0L993.0 652.7L983.0 657.6L973.0 658.9L963.0 659.5L953.0 660.6L952.1 661.0L943.0 666.0L939.5 671.0L939.3 681.0L943.0 689.4L944.6 691.0L953.0 694.5L963.0 697.0L968.8 701.0L973.0 703.8L979.1 711.0L983.0 719.2L983.9 721.0L988.9 731.0L993.0 738.5L995.1 741.0L1003.0 750.9L1003.2 751.0L1013.0 754.8L1023.0 755.8L1033.0 756.0L1043.0 756.0L1053.0 756.2L1063.0 755.1L1070.5 751.0L1073.0 750.1L1083.0 745.9L1093.0 745.4L1103.0 748.2L1112.3 751.0L1113.0 751.3L1123.0 753.9L1133.0 755.7L1143.0 757.0L1152.5 761.0L1153.0 761.3L1163.0 771.0L1163.0 771.0L1173.0 775.1L1183.0 776.3L1193.0 776.6L1203.0 776.9L1213.0 777.0L1223.0 777.4L1233.0 778.9L1241.8 781.0L1243.0 781.3L1253.0 785.4L1263.0 789.4L1273.0 789.4L1283.0 785.4L1293.0 781.3L1294.6 781.0L1303.0 779.1L1313.0 780.2L1314.4 781.0L1323.0 785.3L1333.0 790.5L1333.9 791.0L1343.0 794.8L1353.0 799.8L1356.7 801.0L1363.0 802.7L1373.0 803.5L1383.0 802.8L1392.4 801.0L1393.0 800.9L1403.0 798.3L1413.0 796.0L1423.0 796.3L1433.0 799.4L1436.8 801.0L1443.0 803.5L1453.0 808.1L1460.0 811.0L1463.0 812.8L1473.0 815.4L1483.0 816.3L1493.0 819.9L1494.1 821.0L1503.0 829.7L1503.9 831.0L1513.0 840.6L1513.5 841.0L1523.0 847.0L1533.0 849.9L1543.0 850.8L1553.0 851.0L1558.0 851.0L1563.0 851.0L1573.0 851.2L1583.0 852.1L1593.0 854.8L1603.0 858.5L1612.8 861.0L1613.0 861.1L1623.0 862.7L1633.0 866.0L1643.0 871.0L1643.0 871.0L1653.0 875.5L1663.0 875.8L1673.0 871.7L1674.3 871.0L1683.0 868.3L1691.3 871.0L1693.0 872.6L1695.9 881.0L1698.8 891.0L1702.1 901.0L1703.0 903.5L1705.5 911.0L1710.9 921.0L1713.0 925.5L1716.4 931.0L1719.8 941.0L1723.0 946.4L1727.6 951.0L1733.0 954.2L1743.0 955.8L1753.0 956.0L1763.0 955.4L1773.0 953.4L1783.0 951.5L1787.5 951.0L1793.0 950.4L1803.0 950.5L1807.2 951.0L1813.0 951.8L1823.0 954.3L1833.0 956.6L1843.0 956.5L1853.0 954.1L1862.8 951.0L1863.0 950.9L1873.0 947.0L1883.0 943.2L1890.8 941.0L1893.0 940.3L1903.0 937.3L1912.8 931.0L1913.0 930.8L1922.4 921.0L1923.0 920.5L1933.0 918.8L1935.9 921.0L1939.9 931.0L1941.0 941.0L1943.0 944.8L1948.2 951.0L1953.0 953.8L1963.0 954.4L1973.0 951.8L1976.3 951.0L1983.0 949.1L1993.0 949.6L1997.1 951.0L2003.0 952.7L2013.0 958.6L2015.8 961.0L2023.0 968.5L2025.5 971.0L2033.0 978.2L2035.8 981.0L2043.0 988.5L2045.5 991.0L2053.0 998.4L2055.6 1001.0L2063.0 1009.6L2065.4 1011.0L2073.0 1013.7L2080.2 1011.0L2083.0 1009.8L2093.0 1002.4L2094.8 1001.0L2101.5 991.0L2103.0 989.9L2113.0 983.3L2118.2 981.0L2123.0 979.4L2133.0 977.4L2143.0 976.7L2153.0 976.7L2153.0 981.0L2153.0 991.0L2153.0 1001.0L2153.0 1011.0L2153.0 1021.0L2153.0 1031.0L2153.0 1041.0L2153.0 1051.0L2153.0 1061.0L2153.0 1071.0L2153.0 1081.0L2153.0 1091.0L2153.0 1101.0L2153.0 1111.0L2153.0 1121.0L2153.0 1131.0L2153.0 1141.0L2153.0 1151.0L2153.0 1161.0L2153.0 1171.0L2153.0 1181.0L2153.0 1191.0L2153.0 1201.0L2153.0 1211.0L2153.0 1221.0L2153.0 1231.0L2153.0 1241.0L2153.0 1251.0L2143.0 1251.0L2133.0 1251.0L2123.0 1251.0L2113.0 1251.0L2103.0 1251.0L2093.0 1251.0L2083.0 1251.0L2073.0 1251.0L2063.0 1251.0L2053.0 1251.0L2043.0 1251.0L2033.0 1251.0L2023.0 1251.0L2013.0 1251.0L2003.0 1251.0L1993.0 1251.0L1983.0 1251.0L1973.0 1251.0L1963.0 1251.0L1953.0 1251.0L1943.0 1251.0L1933.0 1251.0L1923.0 1251.0L1913.0 1251.0L1903.0 1251.0L1893.0 1251.0L1883.0 1251.0L1873.0 1251.0L1863.0 1251.0L1853.0 1251.0L1843.0 1251.0L1833.0 1251.0L1823.0 1251.0L1813.0 1251.0L1803.0 1251.0L1793.0 1251.0L1783.0 1251.0L1773.0 1251.0L1763.0 1251.0L1753.0 1251.0L1743.0 1251.0L1733.0 1251.0L1723.0 1251.0L1713.0 1251.0L1703.0 1251.0L1693.0 1251.0L1683.0 1251.0L1673.0 1251.0L1663.0 1251.0L1653.0 1251.0L1643.0 1251.0L1633.0 1251.0L1623.0 1251.0L1613.0 1251.0L1603.0 1251.0L1593.0 1251.0L1583.0 1251.0L1573.0 1251.0L1563.0 1251.0L1553.0 1251.0L1543.0 1251.0L1533.0 1251.0L1523.0 1251.0L1513.0 1251.0L1503.0 1251.0L1493.0 1251.0L1483.0 1251.0L1473.0 1251.0L1463.0 1251.0L1453.0 1251.0L1443.0 1251.0L1433.0 1251.0L1423.0 1251.0L1413.0 1251.0L1403.0 1251.0L1393.0 1251.0L1383.0 1251.0L1373.0 1251.0L1363.0 1251.0L1353.0 1251.0L1343.0 1251.0L1333.0 1251.0L1323.0 1251.0L1313.0 1251.0L1303.0 1251.0L1293.0 1251.0L1283.0 1251.0L1273.0 1251.0L1263.0 1251.0L1253.0 1251.0L1243.0 1251.0L1233.0 1251.0L1223.0 1251.0L1213.0 1251.0L1203.0 1251.0L1193.0 1251.0L1183.0 1251.0L1173.0 1251.0L1163.0 1251.0L1153.0 1251.0L1143.0 1251.0L1133.0 1251.0L1123.0 1251.0L1113.0 1251.0L1103.0 1251.0L1093.0 1251.0L1083.0 1251.0L1073.0 1251.0L1063.0 1251.0L1053.0 1251.0L1043.0 1251.0L1033.0 1251.0L1023.0 1251.0L1013.0 1251.0L1003.0 1251.0L993.0 1251.0L983.0 1251.0L973.0 1251.0L963.0 1251.0L953.0 1251.0L943.0 1251.0L933.0 1251.0L923.0 1251.0L913.0 1251.0L903.0 1251.0L893.0 1251.0L883.0 1251.0L873.0 1251.0L863.0 1251.0L853.0 1251.0L843.0 1251.0L833.0 1251.0L823.0 1251.0L813.0 1251.0L803.0 1251.0L793.0 1251.0L783.0 1251.0L773.0 1251.0L763.0 1251.0L753.0 1251.0L743.0 1251.0L733.0 1251.0L723.0 1251.0L713.0 1251.0L703.0 1251.0L693.0 1251.0L683.0 1251.0L673.0 1251.0L663.0 1251.0L653.0 1251.0L643.0 1251.0L633.0 1251.0L623.0 1251.0L613.0 1251.0L603.0 1251.0L593.0 1251.0L583.0 1251.0L573.0 1251.0L563.0 1251.0L553.0 1251.0L543.0 1251.0L533.0 1251.0L523.0 1251.0L513.0 1251.0L503.0 1251.0L493.0 1251.0L483.0 1251.0L473.0 1251.0L463.0 1251.0L453.0 1251.0L443.0 1251.0L433.0 1251.0L423.0 1251.0L413.0 1251.0L403.0 1251.0L393.0 1251.0L383.0 1251.0L373.0 1251.0L363.0 1251.0L353.0 1251.0L343.0 1251.0L343.0 1241.0L343.0 1231.0L343.0 1221.0L343.0 1211.0L343.0 1201.0L343.0 1191.0L343.0 1181.0L343.0 1171.0L343.0 1161.0L343.0 1151.0L343.0 1141.0L343.0 1131.0L343.0 1121.0L343.0 1111.0L343.0 1101.0L343.0 1091.0L343.0 1081.0L343.0 1071.0L343.0 1061.0L343.0 1051.0L343.0 1041.0L343.0 1031.0L343.0 1021.0L343.0 1011.0L343.0 1001.0L343.0 991.0L343.0 981.0L343.0 971.0L343.0 961.0L343.0 951.0L343.0 941.0L343.0 931.0L343.0 921.0L343.0 911.0L343.0 901.0L343.0 891.0L343.0 881.0L343.0 871.0L343.0 861.0L343.0 851.0L343.0 841.0L343.0 831.0L343.0 821.0L343.0 811.0L343.0 801.0L343.0 791.0L343.0 781.0L343.0 771.0L343.0 761.0L343.0 751.0L343.0 741.0L343.0 731.0L343.0 721.0L343.0 711.0L343.0 701.0L343.0 691.0L343.0 681.0L343.0 671.0L343.0 661.0L343.0 651.0L343.0 641.0L343.0 631.0L343.0 621.0L343.0 611.0L343.0 601.0L343.0 591.0L343.0 581.0L343.0 571.0L343.0 561.0L343.0 551.0L343.0 541.0L343.0 531.0L343.0 521.0L343.0 511.0L343.0 501.0L343.0 491.0L343.0 481.0L343.0 471.0L343.0 461.0L343.0 451.0L343.0 441.0L343.0 431.0ZM1199.6 421.0L1203.0 417.8L1213.0 414.8L1223.0 415.9L1233.0 420.9L1233.1 421.0L1238.8 431.0L1239.8 441.0L1233.9 451.0L1233.0 451.6L1223.0 452.2L1221.0 451.0L1213.0 445.6L1207.8 441.0L1203.0 435.8L1199.2 431.0ZM1979.1 441.0L1983.0 437.4L1993.0 437.4L1996.9 441.0L2001.2 451.0L2002.0 461.0L2002.0 471.0L2002.0 481.0L2002.0 491.0L2001.2 501.0L1996.9 511.0L1993.0 514.9L1983.0 514.7L1979.8 511.0L1975.8 501.0L1974.6 491.0L1974.1 481.0L1974.0 471.0L1974.0 461.0L1974.8 451.0ZM1119.6 461.0L1123.0 457.4L1133.0 454.0L1143.0 455.3L1153.0 460.8L1153.2 461.0L1163.0 470.4L1164.4 471.0L1173.0 473.7L1183.0 474.2L1193.0 480.1L1193.6 481.0L1194.3 491.0L1193.0 493.0L1187.6 501.0L1183.0 506.2L1177.9 511.0L1173.0 514.3L1163.0 514.2L1158.5 511.0L1153.0 504.2L1150.5 501.0L1143.0 492.0L1142.0 491.0L1133.0 483.5L1129.8 481.0L1123.0 475.4L1119.3 471.0ZM1230.0 481.0L1233.0 480.2L1234.3 481.0L1243.0 486.4L1248.2 491.0L1253.0 496.2L1256.8 501.0L1256.4 511.0L1253.0 514.6L1243.0 518.1L1233.0 516.8L1223.2 511.0L1223.0 510.7L1218.4 501.0L1218.7 491.0L1223.0 483.6ZM1419.4 521.0L1423.0 517.6L1433.0 517.3L1437.5 521.0L1443.0 527.2L1447.2 531.0L1453.0 534.8L1463.0 536.8L1472.5 541.0L1473.0 541.3L1482.5 551.0L1483.0 551.5L1493.0 560.5L1493.5 561.0L1503.0 570.7L1503.5 571.0L1513.0 575.2L1523.0 575.7L1533.0 574.6L1543.0 574.3L1553.0 580.2L1553.6 581.0L1554.0 591.0L1553.0 592.6L1545.5 601.0L1543.0 603.3L1533.0 611.0L1533.0 611.0L1523.0 614.8L1513.0 614.1L1507.2 611.0L1503.0 607.2L1497.5 601.0L1493.0 597.1L1483.0 597.6L1479.4 601.0L1476.0 611.0L1475.5 621.0L1473.0 627.3L1467.5 631.0L1463.0 632.0L1459.0 631.0L1453.0 629.4L1443.0 624.8L1435.3 621.0L1433.0 619.4L1423.0 616.0L1413.0 615.3L1403.0 615.3L1393.0 615.3L1383.0 615.3L1373.0 615.3L1363.0 615.3L1353.0 615.3L1343.0 615.3L1333.0 614.5L1324.6 611.0L1323.0 609.4L1319.3 601.0L1318.2 591.0L1318.1 581.0L1318.0 571.0L1318.0 561.0L1318.9 551.0L1323.0 542.6L1324.6 541.0L1333.0 536.9L1343.0 537.0L1351.4 541.0L1353.0 542.6L1357.1 551.0L1358.9 561.0L1363.0 569.4L1364.6 571.0L1373.0 575.1L1383.0 575.2L1392.5 571.0L1393.0 570.7L1402.5 561.0L1403.0 560.5L1412.4 551.0L1413.0 549.6L1415.8 541.0L1416.0 531.0ZM1682.4 521.0L1683.0 520.4L1693.0 518.2L1696.5 521.0L1701.2 531.0L1701.8 541.0L1700.9 551.0L1699.7 561.0L1699.2 571.0L1699.5 581.0L1699.5 591.0L1698.3 601.0L1693.1 611.0L1693.0 611.1L1683.0 616.8L1673.0 618.8L1663.0 619.7L1653.2 621.0L1653.0 621.0L1643.0 626.9L1638.1 631.0L1633.0 634.2L1623.0 634.2L1618.4 631.0L1613.0 624.8L1608.8 621.0L1603.0 617.2L1593.0 615.1L1585.0 611.0L1583.0 608.4L1580.3 601.0L1581.5 591.0L1583.0 587.7L1587.8 581.0L1593.0 577.3L1603.0 576.0L1613.0 576.0L1623.0 576.8L1633.0 581.0L1633.0 581.0L1643.0 588.0L1648.5 591.0L1653.0 592.7L1663.0 593.6L1668.5 591.0L1670.6 581.0L1663.0 572.8L1661.2 571.0L1659.5 561.0L1663.0 556.3L1667.1 551.0L1673.0 541.0L1673.0 540.9L1675.6 531.0ZM2099.2 521.0L2103.0 517.8L2113.0 517.9L2117.6 521.0L2123.0 527.2L2127.2 531.0L2133.0 534.7L2143.0 536.0L2153.0 536.0L2153.0 541.0L2153.0 551.0L2153.0 561.0L2153.0 571.0L2153.0 581.0L2153.0 591.0L2153.0 601.0L2153.0 611.0L2153.0 621.0L2153.0 631.0L2153.0 641.0L2153.0 651.0L2153.0 655.3L2143.0 655.3L2133.0 655.3L2123.0 655.3L2113.0 654.6L2103.5 651.0L2103.0 650.7L2093.2 641.0L2093.0 640.9L2083.0 635.5L2073.0 634.1L2063.0 637.8L2060.1 641.0L2061.8 651.0L2063.0 652.1L2073.0 659.7L2074.4 661.0L2076.2 671.0L2073.0 674.7L2065.5 681.0L2063.0 682.7L2053.0 689.2L2050.8 691.0L2043.0 699.5L2042.0 701.0L2042.4 711.0L2043.0 711.8L2053.0 717.7L2063.0 719.1L2066.2 721.0L2073.0 725.3L2081.0 731.0L2083.0 732.6L2093.0 736.2L2103.0 737.5L2113.0 741.0L2113.0 741.0L2123.0 747.8L2131.6 751.0L2133.0 751.4L2143.0 752.0L2153.0 752.0L2153.0 761.0L2153.0 771.0L2153.0 780.0L2143.0 780.0L2133.0 779.8L2123.0 778.9L2113.0 777.3L2103.0 776.0L2093.0 775.5L2083.0 775.3L2073.0 775.3L2063.0 775.3L2053.0 776.3L2044.5 781.0L2043.0 781.7L2033.0 787.3L2023.0 787.3L2013.0 781.6L2011.8 781.0L2003.0 776.0L1993.0 774.2L1983.0 771.0L1983.0 771.0L1973.0 764.0L1966.9 761.0L1963.0 759.5L1953.0 755.6L1947.0 751.0L1943.0 747.7L1933.0 741.7L1930.5 741.0L1923.0 738.4L1913.0 737.0L1903.0 736.2L1893.0 736.9L1885.0 741.0L1883.0 743.6L1880.3 751.0L1880.0 761.0L1876.6 771.0L1873.0 773.4L1863.0 773.7L1859.3 771.0L1853.0 763.0L1851.7 761.0L1843.0 753.5L1834.9 751.0L1833.0 750.4L1823.0 748.8L1813.0 748.5L1803.0 748.5L1793.0 748.5L1783.0 748.5L1773.0 748.5L1763.0 748.5L1753.0 747.2L1743.0 742.2L1741.6 741.0L1738.0 731.0L1734.1 721.0L1733.0 719.5L1726.0 711.0L1723.0 708.0L1716.1 701.0L1713.0 698.0L1706.2 691.0L1703.0 686.5L1699.6 681.0L1698.9 671.0L1703.0 662.6L1704.6 661.0L1713.0 656.9L1723.0 656.9L1731.4 661.0L1733.0 662.6L1737.1 671.0L1738.8 681.0L1743.0 689.4L1744.6 691.0L1753.0 695.2L1763.0 696.0L1773.0 696.0L1783.0 696.0L1793.0 696.0L1803.0 696.0L1813.0 696.0L1823.0 696.0L1833.0 696.0L1843.0 696.0L1853.0 696.0L1863.0 696.0L1873.0 696.0L1883.0 696.0L1893.0 696.0L1903.0 696.9L1913.0 701.0L1913.0 701.0L1923.0 709.4L1924.6 711.0L1933.0 716.3L1943.0 720.9L1943.1 721.0L1953.0 726.5L1963.0 730.4L1965.1 731.0L1973.0 733.7L1983.0 734.7L1993.0 731.8L1994.0 731.0L2003.0 723.5L2005.2 721.0L2011.9 711.0L2013.0 707.9L2015.7 701.0L2017.5 691.0L2018.3 681.0L2017.4 671.0L2013.0 662.2L2011.8 661.0L2003.0 657.2L1993.0 656.2L1983.0 655.8L1973.0 654.2L1967.1 651.0L1963.0 648.0L1954.3 641.0L1953.0 639.9L1943.0 635.9L1933.0 635.2L1923.0 635.3L1913.0 635.6L1903.0 635.9L1893.0 636.0L1883.0 636.0L1873.0 636.0L1863.0 636.0L1853.0 636.0L1843.0 636.0L1833.0 636.0L1823.0 636.0L1813.0 635.2L1803.5 631.0L1803.0 630.7L1793.0 621.3L1792.5 621.0L1783.0 616.8L1773.0 616.3L1763.0 617.4L1753.0 618.0L1743.0 613.7L1741.0 611.0L1743.0 605.6L1744.6 601.0L1752.6 591.0L1753.0 590.1L1757.9 581.0L1757.4 571.0L1753.0 564.4L1749.8 561.0L1743.0 555.0L1739.3 551.0L1739.6 541.0L1743.0 538.0L1753.0 535.1L1763.0 535.6L1773.0 536.6L1783.0 536.9L1793.0 537.0L1803.0 537.7L1812.5 541.0L1813.0 541.3L1823.0 550.7L1823.5 551.0L1833.0 555.2L1843.0 556.0L1853.0 556.0L1863.0 556.0L1873.0 556.0L1883.0 556.1L1893.0 556.4L1903.0 556.7L1913.0 556.9L1923.0 557.8L1933.0 560.2L1936.2 561.0L1943.0 563.0L1953.0 563.0L1959.8 561.0L1963.0 560.1L1973.0 557.1L1983.0 554.7L1988.8 551.0L1993.0 547.2L1998.4 541.0L2003.0 536.9L2013.0 537.2L2017.1 541.0L2023.0 547.7L2026.6 551.0L2033.0 555.2L2043.0 556.7L2053.0 556.9L2063.0 556.2L2073.0 552.5L2074.8 551.0L2083.0 544.2L2085.8 541.0L2092.6 531.0L2093.0 530.2ZM1477.4 681.0L1483.0 674.6L1493.0 675.1L1499.5 681.0L1499.2 691.0L1493.0 696.9L1483.0 697.4L1477.4 691.0Z"/>
<path fill="#bf3984" fill-rule="evenodd" d="M343.0 431.0L343.0 430.2L353.0 430.2L363.0 430.2L373.0 430.5L379.9 431.0L383.0 431.2L393.0 433.0L403.0 434.9L413.0 435.9L423.0 436.3L433.0 437.4L443.0 439.5L451.5 441.0L453.0 441.3L463.0 443.0L473.0 447.5L479.5 451.0L483.0 453.4L493.0 455.3L500.8 451.0L503.0 450.0L513.0 445.0L523.0 444.5L533.0 449.1L534.7 451.0L537.4 461.0L540.8 471.0L543.0 473.2L550.0 481.0L553.0 482.9L563.0 491.0L563.0 491.0L572.5 501.0L573.0 501.9L581.9 511.0L583.0 511.9L593.0 515.3L603.0 515.9L613.0 516.3L623.0 516.9L633.0 517.1L643.0 518.9L645.3 521.0L653.0 530.2L653.6 531.0L663.0 539.7L667.5 541.0L673.0 542.8L683.0 543.3L693.0 542.3L703.0 542.5L712.2 551.0L706.0 561.0L703.0 565.0L699.4 571.0L699.3 581.0L703.0 589.4L704.6 591.0L713.0 594.7L723.0 594.9L731.4 591.0L733.0 589.4L737.2 581.0L738.3 571.0L739.3 561.0L742.9 551.0L743.0 551.0L752.8 541.0L753.0 540.8L762.8 531.0L763.0 530.6L769.3 521.0L773.0 515.1L776.5 511.0L783.0 503.9L786.2 501.0L793.0 496.2L803.0 494.5L813.0 498.0L815.8 501.0L816.2 511.0L813.0 515.4L806.2 521.0L803.0 523.5L793.7 531.0L793.0 531.6L783.3 541.0L783.0 541.5L778.7 551.0L778.0 561.0L778.0 571.0L777.3 581.0L773.0 590.5L772.7 591.0L763.3 601.0L763.0 601.5L758.8 611.0L758.0 621.0L758.0 631.0L759.7 641.0L763.0 646.0L768.0 651.0L773.0 653.9L783.0 656.4L792.9 661.0L793.0 661.1L803.0 670.7L803.5 671.0L813.0 674.6L823.0 674.6L832.5 671.0L833.0 670.7L843.0 661.3L843.5 661.0L853.0 657.6L863.0 657.6L872.5 661.0L873.0 661.3L883.0 670.7L883.5 671.0L893.0 675.1L903.0 676.9L911.4 681.0L913.0 682.6L916.7 691.0L918.6 701.0L923.0 709.8L924.2 711.0L933.0 715.4L943.0 716.5L953.0 716.7L963.0 719.0L965.1 721.0L971.3 731.0L973.0 737.8L973.7 741.0L973.0 743.2L968.7 751.0L963.0 756.5L959.4 761.0L959.9 771.0L963.0 774.0L973.0 777.3L983.0 777.1L993.0 776.5L1003.0 776.5L1013.0 776.7L1023.0 776.7L1033.0 776.5L1043.0 776.2L1053.0 776.0L1063.0 775.4L1073.0 771.7L1074.0 771.0L1083.0 762.4L1085.4 761.0L1093.0 758.9L1101.2 761.0L1103.0 761.7L1113.0 768.8L1115.5 771.0L1118.9 781.0L1123.0 789.4L1124.6 791.0L1133.0 794.5L1143.0 795.3L1153.0 795.5L1163.0 795.8L1173.0 796.0L1183.0 796.0L1193.0 796.0L1203.0 796.0L1213.0 795.8L1223.0 795.6L1233.0 795.7L1243.0 796.5L1253.0 798.8L1263.0 800.7L1273.0 800.7L1283.0 798.8L1293.0 796.5L1303.0 796.2L1313.0 798.0L1323.0 800.8L1323.6 801.0L1333.0 804.1L1343.0 807.9L1353.0 810.4L1357.9 811.0L1363.0 811.6L1373.0 812.7L1383.0 814.4L1393.0 815.9L1403.0 816.2L1413.0 816.0L1423.0 816.7L1433.0 820.1L1434.3 821.0L1443.0 828.0L1447.1 831.0L1453.0 834.2L1463.0 835.8L1473.0 836.0L1483.0 837.2L1490.5 841.0L1493.0 842.2L1503.0 850.6L1503.5 851.0L1513.0 857.9L1521.9 861.0L1523.0 861.5L1533.0 863.0L1543.0 862.4L1553.0 861.9L1563.0 861.9L1573.0 862.2L1583.0 863.8L1593.0 868.0L1599.5 871.0L1603.0 873.2L1613.0 876.2L1623.0 878.2L1628.9 881.0L1633.0 884.0L1641.7 891.0L1643.0 892.1L1653.0 896.0L1663.0 896.7L1673.0 896.4L1683.0 898.6L1685.1 901.0L1691.3 911.0L1693.0 915.4L1694.6 921.0L1696.6 931.0L1698.0 941.0L1702.0 951.0L1703.0 952.2L1710.5 961.0L1713.0 963.5L1721.8 971.0L1723.0 971.9L1733.0 975.3L1743.0 976.0L1753.0 976.0L1763.0 974.6L1769.8 971.0L1773.0 969.6L1783.0 964.6L1793.0 962.5L1803.0 963.3L1813.0 968.5L1815.9 971.0L1819.4 981.0L1823.0 991.0L1823.0 991.0L1830.7 1001.0L1833.0 1003.9L1839.0 1011.0L1843.0 1014.2L1853.0 1012.6L1854.6 1011.0L1856.5 1001.0L1853.2 991.0L1853.0 989.2L1851.4 981.0L1853.0 977.4L1855.2 971.0L1863.0 964.3L1868.0 961.0L1873.0 958.5L1883.0 954.1L1893.0 951.4L1898.7 951.0L1903.0 950.6L1910.3 951.0L1913.0 951.1L1923.0 953.8L1932.5 961.0L1933.0 961.4L1943.0 969.8L1945.5 971.0L1953.0 975.3L1963.0 974.7L1967.9 971.0L1973.0 968.1L1983.0 962.7L1993.0 962.7L2003.0 969.1L2005.0 971.0L2013.0 980.5L2013.4 981.0L2023.0 990.9L2023.1 991.0L2032.1 1001.0L2033.0 1002.3L2040.4 1011.0L2043.0 1014.3L2048.5 1021.0L2053.0 1026.6L2057.5 1031.0L2063.0 1035.4L2073.0 1035.6L2078.5 1031.0L2083.0 1027.9L2090.3 1021.0L2093.0 1019.2L2103.0 1013.5L2110.5 1011.0L2113.0 1009.8L2123.0 1008.5L2133.0 1008.5L2143.0 1008.5L2153.0 1008.5L2153.0 1011.0L2153.0 1021.0L2153.0 1031.0L2153.0 1041.0L2153.0 1051.0L2153.0 1061.0L2153.0 1071.0L2153.0 1081.0L2153.0 1091.0L2153.0 1101.0L2153.0 1111.0L2153.0 1121.0L2153.0 1131.0L2153.0 1141.0L2153.0 1151.0L2153.0 1161.0L2153.0 1171.0L2153.0 1181.0L2153.0 1191.0L2153.0 1201.0L2153.0 1211.0L2153.0 1221.0L2153.0 1231.0L2153.0 1241.0L2153.0 1251.0L2143.0 1251.0L2133.0 1251.0L2123.0 1251.0L2113.0 1251.0L2103.0 1251.0L2093.0 1251.0L2083.0 1251.0L2073.0 1251.0L2063.0 1251.0L2053.0 1251.0L2043.0 1251.0L2033.0 1251.0L2023.0 1251.0L2013.0 1251.0L2003.0 1251.0L1993.0 1251.0L1983.0 1251.0L1973.0 1251.0L1963.0 1251.0L1953.0 1251.0L1943.0 1251.0L1933.0 1251.0L1923.0 1251.0L1913.0 1251.0L1903.0 1251.0L1893.0 1251.0L1883.0 1251.0L1873.0 1251.0L1863.0 1251.0L1853.0 1251.0L1843.0 1251.0L1833.0 1251.0L1823.0 1251.0L1813.0 1251.0L1803.0 1251.0L1793.0 1251.0L1783.0 1251.0L1773.0 1251.0L1763.0 1251.0L1753.0 1251.0L1743.0 1251.0L1733.0 1251.0L1723.0 1251.0L1713.0 1251.0L1703.0 1251.0L1693.0 1251.0L1683.0 1251.0L1673.0 1251.0L1663.0 1251.0L1653.0 1251.0L1643.0 1251.0L1633.0 1251.0L1623.0 1251.0L1613.0 1251.0L1603.0 1251.0L1593.0 1251.0L1583.0 1251.0L1573.0 1251.0L1563.0 1251.0L1553.0 1251.0L1543.0 1251.0L1533.0 1251.0L1523.0 1251.0L1513.0 1251.0L1503.0 1251.0L1493.0 1251.0L1483.0 1251.0L1473.0 1251.0L1463.0 1251.0L1453.0 1251.0L1443.0 1251.0L1433.0 1251.0L1423.0 1251.0L1413.0 1251.0L1403.0 1251.0L1393.0 1251.0L1383.0 1251.0L1373.0 1251.0L1363.0 1251.0L1353.0 1251.0L1343.0 1251.0L1333.0 1251.0L1323.0 1251.0L1313.0 1251.0L1303.0 1251.0L1293.0 1251.0L1283.0 1251.0L1273.0 1251.0L1263.0 1251.0L1253.0 1251.0L1243.0 1251.0L1233.0 1251.0L1223.0 1251.0L1213.0 1251.0L1203.0 1251.0L1193.0 1251.0L1183.0 1251.0L1173.0 1251.0L1163.0 1251.0L1153.0 1251.0L1143.0 1251.0L1133.0 1251.0L1123.0 1251.0L1113.0 1251.0L1103.0 1251.0L1093.0 1251.0L1083.0 1251.0L1073.0 1251.0L1063.0 1251.0L1053.0 1251.0L1043.0 1251.0L1033.0 1251.0L1023.0 1251.0L1013.0 1251.0L1003.0 1251.0L993.0 1251.0L983.0 1251.0L973.0 1251.0L963.0 1251.0L953.0 1251.0L943.0 1251.0L933.0 1251.0L923.0 1251.0L913.0 1251.0L903.0 1251.0L893.0 1251.0L883.0 1251.0L873.0 1251.0L863.0 1251.0L853.0 1251.0L843.0 1251.0L833.0 1251.0L823.0 1251.0L813.0 1251.0L803.0 1251.0L793.0 1251.0L783.0 1251.0L773.0 1251.0L763.0 1251.0L753.0 1251.0L743.0 1251.0L733.0 1251.0L723.0 1251.0L713.0 1251.0L703.0 1251.0L693.0 1251.0L683.0 1251.0L673.0 1251.0L663.0 1251.0L653.0 1251.0L643.0 1251.0L633.0 1251.0L623.0 1251.0L613.0 1251.0L603.0 1251.0L593.0 1251.0L583.0 1251.0L573.0 1251.0L563.0 1251.0L553.0 1251.0L543.0 1251.0L533.0 1251.0L523.0 1251.0L513.0 1251.0L503.0 1251.0L493.0 1251.0L483.0 1251.0L473.0 1251.0L463.0 1251.0L453.0 1251.0L443.0 1251.0L433.0 1251.0L423.0 1251.0L413.0 1251.0L403.0 1251.0L393.0 1251.0L383.0 1251.0L373.0 1251.0L363.0 1251.0L353.0 1251.0L343.0 1251.0L343.0 1241.0L343.0 1231.0L343.0 1221.0L343.0 1211.0L343.0 1201.0L343.0 1191.0L343.0 1181.0L343.0 1171.0L343.0 1161.0L343.0 1151.0L343.0 1141.0L343.0 1131.0L343.0 1121.0L343.0 1111.0L343.0 1101.0L343.0 1091.0L343.0 1081.0L343.0 1071.0L343.0 1061.0L343.0 1051.0L343.0 1041.0L343.0 1031.0L343.0 1021.0L343.0 1011.0L343.0 1001.0L343.0 991.0L343.0 981.0L343.0 971.0L343.0 961.0L343.0 951.0L343.0 941.0L343.0 931.0L343.0 921.0L343.0 911.0L343.0 901.0L343.0 891.0L343.0 881.0L343.0 871.0L343.0 861.0L343.0 851.0L343.0 841.0L343.0 831.0L343.0 821.0L343.0 811.0L343.0 801.0L343.0 791.0L343.0 781.0L343.0 771.0L343.0 761.0L343.0 751.0L343.0 741.0L343.0 731.0L343.0 721.0L343.0 711.0L343.0 701.0L343.0 691.0L343.0 681.0L343.0 671.0L343.0 661.0L343.0 651.0L343.0 641.0L343.0 631.0L343.0 621.0L343.0 611.0L343.0 601.0L343.0 591.0L343.0 581.0L343.0 571.0L343.0 561.0L343.0 551.0L343.0 541.0L343.0 531.0L343.0 521.0L343.0 511.0L343.0 501.0L343.0 491.0L343.0 481.0L343.0 471.0L343.0 461.0L343.0 451.0L343.0 441.0ZM2098.4 561.0L2103.0 557.2L2113.0 557.3L2117.6 561.0L2123.0 567.2L2127.2 571.0L2133.0 574.8L2143.0 576.0L2153.0 576.0L2153.0 581.0L2153.0 591.0L2153.0 601.0L2153.0 611.0L2153.0 616.0L2143.0 616.0L2133.0 616.0L2123.0 616.0L2113.0 615.2L2103.0 611.0L2103.0 611.0L2093.0 603.5L2089.8 601.0L2083.0 595.5L2079.2 591.0L2079.1 581.0L2083.0 576.4L2088.0 571.0L2093.0 566.0ZM1998.6 581.0L2003.0 577.4L2013.0 577.7L2016.6 581.0L2020.0 591.0L2019.4 601.0L2018.3 611.0L2017.1 621.0L2013.0 629.4L2011.4 631.0L2003.0 634.5L1993.0 634.5L1984.6 631.0L1983.0 629.4L1978.9 621.0L1978.8 611.0L1983.0 601.0L1983.0 601.0L1990.5 591.0L1993.0 587.8ZM796.1 601.0L803.0 594.5L813.0 594.5L819.4 601.0L819.1 611.0L813.0 617.5L803.0 617.5L796.4 611.0Z"/>
<path fill="#d6556d" fill-rule="evenodd" d="M343.0 451.0L343.0 443.5L353.0 443.5L363.0 443.5L373.0 443.5L383.0 443.8L393.0 444.9L403.0 446.1L413.0 446.7L423.0 447.4L433.0 449.4L438.0 451.0L443.0 453.9L453.0 456.7L463.0 458.7L467.5 461.0L473.0 465.1L480.6 471.0L483.0 473.2L493.0 480.6L493.5 481.0L503.0 490.7L503.5 491.0L513.0 495.2L523.0 495.8L533.0 494.9L543.0 495.4L553.0 500.8L553.2 501.0L555.6 511.0L553.0 515.3L546.4 521.0L543.0 523.2L533.0 529.0L530.0 531.0L523.0 536.6L519.3 541.0L519.6 551.0L523.0 554.6L533.0 558.0L543.0 556.6L553.0 551.2L553.2 551.0L563.0 541.3L563.5 541.0L573.0 537.0L583.0 536.3L593.0 535.5L603.0 535.1L613.0 538.4L615.9 541.0L614.2 551.0L613.0 552.1L603.0 559.6L601.6 561.0L599.9 571.0L603.0 575.6L607.6 581.0L613.0 586.4L618.1 591.0L623.0 594.3L633.0 594.2L637.6 591.0L643.0 584.8L647.2 581.0L653.0 577.2L663.0 576.9L671.4 581.0L673.0 582.6L676.7 591.0L678.6 601.0L683.0 609.8L684.2 611.0L693.0 615.4L703.0 617.3L711.4 621.0L713.0 622.6L717.1 631.0L718.9 641.0L723.0 649.4L724.6 651.0L733.0 655.1L743.0 657.6L748.7 661.0L753.0 663.7L763.0 670.3L764.3 671.0L773.0 677.6L776.2 681.0L774.4 691.0L773.0 692.3L763.0 699.9L761.8 701.0L760.3 711.0L763.0 714.0L773.0 717.8L783.0 716.6L793.0 711.1L793.2 711.0L803.0 701.3L803.5 701.0L813.0 697.4L823.0 696.6L833.0 696.1L843.0 695.4L853.0 695.2L863.0 696.3L873.0 701.0L873.0 701.0L882.6 711.0L883.0 711.5L892.7 721.0L893.0 721.5L897.1 731.0L897.2 741.0L893.0 750.5L892.7 751.0L883.3 761.0L883.0 761.5L878.8 771.0L878.9 781.0L883.0 789.4L884.6 791.0L893.0 795.1L903.0 794.8L908.8 791.0L913.0 787.2L918.4 781.0L923.0 777.3L933.0 777.3L937.1 781.0L943.0 787.7L946.6 791.0L953.0 795.2L963.0 797.4L972.5 801.0L973.0 801.3L983.0 810.7L983.5 811.0L993.0 815.2L1003.0 816.0L1013.0 816.0L1023.0 815.2L1032.5 811.0L1033.0 810.7L1043.0 801.3L1043.5 801.0L1053.0 797.4L1063.0 797.4L1072.5 801.0L1073.0 801.3L1082.2 811.0L1083.0 811.8L1090.5 821.0L1093.0 824.2L1098.5 831.0L1103.0 834.7L1113.0 834.7L1117.6 831.0L1123.0 824.8L1127.2 821.0L1133.0 817.8L1143.0 816.7L1153.0 816.7L1163.0 816.7L1173.0 816.7L1183.0 816.7L1193.0 816.7L1203.0 816.0L1213.0 813.7L1223.0 811.5L1227.5 811.0L1233.0 810.4L1243.0 810.3L1253.0 810.6L1263.0 810.9L1273.0 810.9L1283.0 810.6L1293.0 810.3L1303.0 810.5L1307.2 811.0L1313.0 811.7L1323.0 814.6L1333.0 818.2L1343.0 820.6L1347.5 821.0L1353.0 821.6L1363.0 822.4L1373.0 825.1L1383.0 830.3L1384.8 831.0L1393.0 834.8L1403.0 836.0L1413.0 836.2L1423.0 837.8L1428.9 841.0L1433.0 844.0L1441.7 851.0L1443.0 851.9L1453.0 855.1L1463.0 855.8L1473.0 856.0L1483.0 857.7L1489.1 861.0L1493.0 863.8L1500.9 871.0L1503.0 873.3L1510.5 881.0L1513.0 884.2L1518.5 891.0L1523.0 894.7L1533.0 894.7L1537.6 891.0L1543.0 884.8L1547.2 881.0L1553.0 878.2L1563.0 877.9L1572.5 881.0L1573.0 881.3L1583.0 890.9L1583.2 891.0L1593.0 895.4L1603.0 897.3L1611.4 901.0L1613.0 902.6L1617.1 911.0L1618.0 921.0L1618.0 931.0L1618.9 941.0L1623.0 949.4L1624.6 951.0L1633.0 954.8L1643.0 955.3L1653.0 955.3L1663.0 956.4L1672.9 961.0L1673.0 961.1L1682.5 971.0L1683.0 971.6L1693.0 980.6L1693.4 981.0L1703.0 990.9L1703.2 991.0L1713.0 995.5L1723.0 996.5L1733.0 996.4L1743.0 996.2L1753.0 996.0L1763.0 994.9L1770.8 991.0L1773.0 989.8L1782.3 981.0L1783.0 980.5L1793.0 979.1L1795.6 981.0L1799.3 991.0L1800.5 1001.0L1803.0 1005.9L1806.1 1011.0L1813.0 1019.7L1814.1 1021.0L1818.0 1031.0L1819.6 1041.0L1823.0 1049.4L1824.6 1051.0L1833.0 1054.5L1843.0 1054.5L1851.4 1051.0L1853.0 1049.4L1856.7 1041.0L1860.2 1031.0L1863.0 1027.8L1869.0 1021.0L1873.0 1011.1L1873.0 1011.0L1873.0 1010.9L1870.9 1001.0L1866.3 991.0L1865.5 981.0L1872.8 971.0L1873.0 970.9L1883.0 965.7L1893.0 962.6L1903.0 962.4L1913.0 965.1L1922.5 971.0L1923.0 971.4L1931.8 981.0L1933.0 983.5L1937.3 991.0L1938.7 1001.0L1938.8 1011.0L1939.7 1021.0L1943.0 1029.4L1944.6 1031.0L1953.0 1034.5L1963.0 1033.3L1966.4 1031.0L1973.0 1024.4L1975.8 1021.0L1977.7 1011.0L1976.6 1001.0L1976.6 991.0L1981.2 981.0L1983.0 979.3L1993.0 979.1L1995.0 981.0L2003.0 991.0L2003.0 991.0L2010.3 1001.0L2013.0 1005.3L2016.1 1011.0L2017.8 1021.0L2018.4 1031.0L2017.9 1041.0L2013.0 1050.1L2012.6 1051.0L2004.6 1061.0L2003.0 1065.6L2001.2 1071.0L2003.0 1073.2L2013.0 1077.0L2023.0 1076.5L2033.0 1075.5L2043.0 1075.3L2053.0 1075.3L2063.0 1075.3L2073.0 1075.3L2083.0 1075.5L2093.0 1076.5L2103.0 1077.1L2113.0 1074.0L2116.4 1071.0L2116.7 1061.0L2113.0 1056.5L2106.8 1051.0L2103.0 1046.8L2099.5 1041.0L2101.6 1031.0L2103.0 1029.8L2113.0 1024.8L2123.0 1023.5L2133.0 1023.5L2143.0 1023.5L2153.0 1023.5L2153.0 1031.0L2153.0 1041.0L2153.0 1051.0L2153.0 1061.0L2153.0 1071.0L2153.0 1081.0L2153.0 1091.0L2153.0 1101.0L2153.0 1111.0L2153.0 1121.0L2153.0 1131.0L2153.0 1141.0L2153.0 1151.0L2153.0 1161.0L2153.0 1171.0L2153.0 1181.0L2153.0 1191.0L2153.0 1201.0L2153.0 1211.0L2153.0 1221.0L2153.0 1231.0L2153.0 1241.0L2153.0 1251.0L2143.0 1251.0L2133.0 1251.0L2123.0 1251.0L2113.0 1251.0L2103.0 1251.0L2093.0 1251.0L2083.0 1251.0L2073.0 1251.0L2063.0 1251.0L2053.0 1251.0L2043.0 1251.0L2033.0 1251.0L2023.0 1251.0L2013.0 1251.0L2003.0 1251.0L1993.0 1251.0L1983.0 1251.0L1973.0 1251.0L1963.0 1251.0L1953.0 1251.0L1943.0 1251.0L1933.0 1251.0L1923.0 1251.0L1913.0 1251.0L1903.0 1251.0L1893.0 1251.0L1883.0 1251.0L1873.0 1251.0L1863.0 1251.0L1853.0 1251.0L1843.0 1251.0L1833.0 1251.0L1823.0 1251.0L1813.0 1251.0L1803.0 1251.0L1793.0 1251.0L1783.0 1251.0L1773.0 1251.0L1763.0 1251.0L1753.0 1251.0L1743.0 1251.0L1733.0 1251.0L1723.0 1251.0L1713.0 1251.0L1703.0 1251.0L1693.0 1251.0L1683.0 1251.0L1673.0 1251.0L1663.0 1251.0L1653.0 1251.0L1643.0 1251.0L1633.0 1251.0L1623.0 1251.0L1613.0 1251.0L1603.0 1251.0L1593.0 1251.0L1583.0 1251.0L1573.0 1251.0L1563.0 1251.0L1553.0 1251.0L1543.0 1251.0L1533.0 1251.0L1523.0 1251.0L1513.0 1251.0L1503.0 1251.0L1493.0 1251.0L1483.0 1251.0L1473.0 1251.0L1463.0 1251.0L1453.0 1251.0L1443.0 1251.0L1433.0 1251.0L1423.0 1251.0L1413.0 1251.0L1403.0 1251.0L1393.0 1251.0L1383.0 1251.0L1373.0 1251.0L1363.0 1251.0L1353.0 1251.0L1343.0 1251.0L1333.0 1251.0L1323.0 1251.0L1313.0 1251.0L1303.0 1251.0L1293.0 1251.0L1283.0 1251.0L1273.0 1251.0L1263.0 1251.0L1253.0 1251.0L1243.0 1251.0L1233.0 1251.0L1223.0 1251.0L1213.0 1251.0L1203.0 1251.0L1193.0 1251.0L1183.0 1251.0L1173.0 1251.0L1163.0 1251.0L1153.0 1251.0L1143.0 1251.0L1133.0 1251.0L1123.0 1251.0L1113.0 1251.0L1103.0 1251.0L1093.0 1251.0L1083.0 1251.0L1073.0 1251.0L1063.0 1251.0L1053.0 1251.0L1043.0 1251.0L1033.0 1251.0L1023.0 1251.0L1013.0 1251.0L1003.0 1251.0L993.0 1251.0L983.0 1251.0L973.0 1251.0L963.0 1251.0L953.0 1251.0L943.0 1251.0L933.0 1251.0L923.0 1251.0L913.0 1251.0L903.0 1251.0L893.0 1251.0L883.0 1251.0L873.0 1251.0L863.0 1251.0L853.0 1251.0L843.0 1251.0L833.0 1251.0L823.0 1251.0L813.0 1251.0L803.0 1251.0L793.0 1251.0L783.0 1251.0L773.0 1251.0L763.0 1251.0L753.0 1251.0L743.0 1251.0L733.0 1251.0L723.0 1251.0L713.0 1251.0L703.0 1251.0L693.0 1251.0L683.0 1251.0L673.0 1251.0L663.0 1251.0L653.0 1251.0L643.0 1251.0L633.0 1251.0L623.0 1251.0L613.0 1251.0L603.0 1251.0L593.0 1251.0L583.0 1251.0L573.0 1251.0L563.0 1251.0L553.0 1251.0L543.0 1251.0L533.0 1251.0L523.0 1251.0L513.0 1251.0L503.0 1251.0L493.0 1251.0L483.0 1251.0L473.0 1251.0L463.0 1251.0L453.0 1251.0L443.0 1251.0L433.0 1251.0L423.0 1251.0L413.0 1251.0L403.0 1251.0L393.0 1251.0L383.0 1251.0L373.0 1251.0L363.0 1251.0L353.0 1251.0L343.0 1251.0L343.0 1241.0L343.0 1231.0L343.0 1221.0L343.0 1211.0L343.0 1201.0L343.0 1191.0L343.0 1181.0L343.0 1171.0L343.0 1161.0L343.0 1151.0L343.0 1141.0L343.0 1131.0L343.0 1121.0L343.0 1111.0L343.0 1101.0L343.0 1091.0L343.0 1081.0L343.0 1071.0L343.0 1061.0L343.0 1051.0L343.0 1041.0L343.0 1031.0L343.0 1021.0L343.0 1011.0L343.0 1001.0L343.0 991.0L343.0 981.0L343.0 971.0L343.0 961.0L343.0 951.0L343.0 941.0L343.0 931.0L343.0 921.0L343.0 911.0L343.0 901.0L343.0 891.0L343.0 881.0L343.0 871.0L343.0 861.0L343.0 851.0L343.0 841.0L343.0 831.0L343.0 821.0L343.0 811.0L343.0 801.0L343.0 791.0L343.0 781.0L343.0 771.0L343.0 761.0L343.0 751.0L343.0 741.0L343.0 731.0L343.0 721.0L343.0 711.0L343.0 701.0L343.0 691.0L343.0 681.0L343.0 671.0L343.0 661.0L343.0 651.0L343.0 641.0L343.0 631.0L343.0 621.0L343.0 611.0L343.0 601.0L343.0 591.0L343.0 581.0L343.0 571.0L343.0 561.0L343.0 551.0L343.0 541.0L343.0 531.0L343.0 521.0L343.0 511.0L343.0 501.0L343.0 491.0L343.0 481.0L343.0 471.0L343.0 461.0ZM503.0 597.5L500.2 601.0L502.4 611.0L503.0 611.5L513.0 617.8L523.0 620.2L525.6 621.0L533.0 623.9L542.4 631.0L543.0 631.4L553.0 635.9L563.0 637.9L573.0 638.7L583.0 638.2L593.0 634.3L595.9 631.0L596.1 621.0L593.0 617.1L583.0 613.4L573.0 612.8L565.5 611.0L563.0 610.5L553.0 605.1L548.1 601.0L543.0 596.7L533.0 593.1L523.0 592.2L513.0 592.8ZM1453.0 917.7L1444.6 921.0L1443.0 922.6L1439.1 931.0L1440.0 941.0L1443.0 946.0L1448.0 951.0L1453.0 953.9L1463.0 955.5L1473.0 956.5L1483.0 957.9L1493.0 958.7L1503.0 959.4L1509.5 961.0L1513.0 961.7L1523.0 965.4L1533.0 969.5L1538.8 971.0L1543.0 971.9L1548.0 971.0L1553.0 968.5L1557.0 961.0L1555.8 951.0L1553.0 947.6L1546.4 941.0L1543.0 938.2L1533.0 935.7L1523.0 934.6L1513.0 933.1L1503.0 932.2L1493.0 931.4L1491.6 931.0L1483.0 927.8L1473.0 921.0L1473.0 921.0L1463.0 917.6Z"/>
<path fill="#ea7457" fill-rule="evenodd" d="M384.6 521.0L393.0 516.9L403.0 516.9L411.4 521.0L413.0 522.6L417.1 531.0L417.1 541.0L413.0 549.4L411.4 551.0L403.0 555.1L393.0 555.1L384.6 551.0L383.0 549.4L378.9 541.0L378.9 531.0L383.0 522.6ZM557.4 581.0L563.0 575.0L573.0 574.6L579.0 581.0L579.2 591.0L573.0 595.6L563.0 593.6L560.1 591.0ZM423.5 601.0L433.0 596.8L443.0 596.8L452.5 601.0L453.0 601.3L463.0 610.7L463.5 611.0L473.0 615.2L483.0 617.9L487.5 621.0L493.0 625.1L500.4 631.0L503.0 633.2L513.0 640.5L513.6 641.0L523.0 650.9L523.2 651.0L533.0 654.8L543.0 655.9L553.0 656.3L563.0 656.7L573.0 656.9L583.0 656.9L593.0 656.7L603.0 655.2L608.6 651.0L613.0 643.6L613.9 641.0L615.7 631.0L619.7 621.0L623.0 617.9L633.0 617.9L636.9 621.0L641.2 631.0L642.7 641.0L643.0 641.9L648.0 651.0L653.0 654.7L663.0 656.8L672.5 661.0L673.0 661.3L682.5 671.0L683.0 671.5L693.0 680.5L693.5 681.0L702.5 691.0L703.0 691.5L713.0 700.5L713.5 701.0L722.5 711.0L723.0 711.5L733.0 720.5L733.4 721.0L742.3 731.0L743.0 731.7L753.0 740.6L753.5 741.0L762.5 751.0L763.0 751.5L773.0 760.5L773.5 761.0L782.5 771.0L783.0 771.5L793.0 780.5L793.5 781.0L802.5 791.0L803.0 791.4L813.0 800.4L813.6 801.0L823.0 810.7L823.5 811.0L833.0 815.2L843.0 816.0L853.0 816.0L863.0 816.9L872.5 821.0L873.0 821.3L883.0 830.7L883.5 831.0L893.0 835.2L903.0 836.8L912.5 841.0L913.0 841.3L923.0 850.7L923.5 851.0L933.0 854.6L943.0 855.6L953.0 855.9L963.0 856.0L973.0 856.0L983.0 856.8L992.5 861.0L993.0 861.3L1003.0 870.7L1003.5 871.0L1013.0 875.2L1023.0 876.8L1032.5 881.0L1033.0 881.3L1043.0 890.7L1043.5 891.0L1053.0 894.6L1063.0 895.3L1073.0 895.3L1083.0 895.3L1093.0 895.3L1103.0 896.0L1113.0 899.9L1114.4 901.0L1123.0 907.8L1127.5 911.0L1133.0 913.9L1143.0 915.3L1153.0 915.3L1163.0 914.5L1171.4 911.0L1173.0 909.4L1177.1 901.0L1176.8 891.0L1173.0 885.2L1169.2 881.0L1163.0 875.5L1159.3 871.0L1159.6 861.0L1163.0 857.4L1173.0 854.0L1183.0 854.6L1193.0 855.7L1203.0 855.1L1211.4 851.0L1213.0 849.4L1217.1 841.0L1220.7 831.0L1223.0 829.1L1233.0 824.5L1243.0 823.5L1253.0 823.5L1263.0 823.5L1273.0 823.5L1283.0 823.5L1293.0 823.5L1303.0 824.3L1313.0 827.4L1320.5 831.0L1323.0 832.7L1333.0 836.3L1343.0 837.1L1353.0 837.2L1363.0 838.4L1368.5 841.0L1373.0 844.2L1381.6 851.0L1383.0 852.1L1393.0 856.0L1403.0 857.4L1413.0 861.0L1413.0 861.0L1423.0 868.1L1430.4 871.0L1433.0 871.8L1443.0 872.8L1453.0 873.1L1463.0 873.8L1473.0 877.7L1476.4 881.0L1476.6 891.0L1473.0 894.5L1463.0 898.2L1453.0 898.9L1443.0 899.2L1433.0 899.4L1423.0 898.8L1413.0 897.4L1403.0 896.3L1393.0 895.7L1383.0 894.6L1373.0 894.0L1363.0 897.4L1359.7 901.0L1359.5 911.0L1363.0 914.4L1372.5 921.0L1373.0 921.3L1383.0 927.5L1388.4 931.0L1393.0 934.2L1403.0 936.8L1412.5 941.0L1413.0 941.3L1421.2 951.0L1423.0 952.9L1430.2 961.0L1433.0 963.8L1441.7 971.0L1443.0 972.1L1453.0 976.0L1463.0 976.7L1473.0 976.8L1483.0 976.9L1493.0 977.0L1503.0 977.5L1513.0 979.4L1518.8 981.0L1523.0 982.6L1533.0 987.2L1540.8 991.0L1543.0 992.3L1553.0 995.3L1563.0 996.0L1573.0 996.0L1583.0 996.0L1593.0 996.0L1603.0 997.2L1608.8 1001.0L1613.0 1004.8L1618.9 1011.0L1623.0 1014.2L1633.0 1011.5L1633.4 1011.0L1636.2 1001.0L1636.2 991.0L1639.4 981.0L1643.0 978.1L1653.0 978.0L1656.7 981.0L1661.1 991.0L1661.7 1001.0L1660.8 1011.0L1660.3 1021.0L1663.0 1028.4L1665.0 1031.0L1673.0 1034.5L1683.0 1036.3L1690.8 1041.0L1693.0 1042.2L1702.2 1051.0L1703.0 1051.6L1713.0 1053.6L1717.1 1051.0L1723.0 1044.2L1725.5 1041.0L1733.0 1031.8L1733.8 1031.0L1742.8 1021.0L1743.0 1020.9L1753.0 1016.2L1763.0 1014.4L1773.0 1014.0L1783.0 1016.1L1789.8 1021.0L1793.0 1024.2L1797.3 1031.0L1798.8 1041.0L1793.2 1051.0L1793.0 1051.2L1791.8 1051.0L1783.0 1049.8L1773.0 1042.2L1764.2 1041.0L1763.0 1040.8L1762.8 1041.0L1756.3 1051.0L1757.3 1061.0L1762.9 1071.0L1763.0 1071.1L1773.0 1076.0L1783.0 1077.6L1793.0 1077.6L1803.0 1076.5L1813.0 1075.8L1823.0 1075.8L1833.0 1076.0L1843.0 1076.0L1853.0 1075.8L1863.0 1074.8L1871.8 1071.0L1873.0 1069.8L1877.4 1061.0L1879.6 1051.0L1883.0 1045.0L1886.0 1041.0L1893.0 1032.9L1894.2 1031.0L1894.7 1021.0L1893.0 1017.7L1890.2 1011.0L1885.4 1001.0L1883.0 995.0L1881.7 991.0L1883.0 985.8L1886.2 981.0L1893.0 978.3L1903.0 978.5L1908.0 981.0L1913.0 986.0L1915.9 991.0L1917.5 1001.0L1918.5 1011.0L1919.6 1021.0L1919.8 1031.0L1918.7 1041.0L1916.8 1051.0L1916.0 1061.0L1919.4 1071.0L1923.0 1074.4L1933.0 1074.7L1937.7 1071.0L1943.0 1064.7L1946.1 1061.0L1953.0 1056.5L1963.0 1053.6L1967.4 1051.0L1973.0 1047.8L1979.3 1041.0L1983.0 1037.7L1993.0 1035.6L1997.5 1041.0L1995.1 1051.0L1993.0 1053.6L1985.0 1061.0L1983.0 1063.7L1975.3 1071.0L1973.0 1073.1L1963.0 1079.8L1961.6 1081.0L1960.1 1091.0L1963.0 1093.6L1973.0 1096.9L1983.0 1096.5L1993.0 1095.9L2003.0 1096.0L2013.0 1096.1L2023.0 1096.1L2033.0 1096.0L2043.0 1096.0L2053.0 1096.0L2063.0 1096.0L2073.0 1096.0L2083.0 1096.0L2093.0 1096.1L2103.0 1096.1L2113.0 1096.0L2123.0 1095.6L2133.0 1095.4L2143.0 1095.3L2153.0 1095.3L2153.0 1101.0L2153.0 1111.0L2153.0 1121.0L2153.0 1131.0L2153.0 1141.0L2153.0 1151.0L2153.0 1161.0L2153.0 1171.0L2153.0 1181.0L2153.0 1191.0L2153.0 1201.0L2153.0 1211.0L2153.0 1221.0L2153.0 1231.0L2153.0 1241.0L2153.0 1251.0L2143.0 1251.0L2133.0 1251.0L2123.0 1251.0L2113.0 1251.0L2103.0 1251.0L2093.0 1251.0L2083.0 1251.0L2073.0 1251.0L2063.0 1251.0L2053.0 1251.0L2043.0 1251.0L2033.0 1251.0L2023.0 1251.0L2013.0 1251.0L2003.0 1251.0L1993.0 1251.0L1983.0 1251.0L1973.0 1251.0L1963.0 1251.0L1953.0 1251.0L1943.0 1251.0L1933.0 1251.0L1923.0 1251.0L1913.0 1251.0L1903.0 1251.0L1893.0 1251.0L1883.0 1251.0L1873.0 1251.0L1863.0 1251.0L1853.0 1251.0L1843.0 1251.0L1833.0 1251.0L1823.0 1251.0L1813.0 1251.0L1803.0 1251.0L1793.0 1251.0L1783.0 1251.0L1773.0 1251.0L1763.0 1251.0L1753.0 1251.0L1743.0 1251.0L1733.0 1251.0L1723.0 1251.0L1713.0 1251.0L1703.0 1251.0L1693.0 1251.0L1683.0 1251.0L1673.0 1251.0L1663.0 1251.0L1653.0 1251.0L1643.0 1251.0L1633.0 1251.0L1623.0 1251.0L1613.0 1251.0L1603.0 1251.0L1593.0 1251.0L1583.0 1251.0L1573.0 1251.0L1563.0 1251.0L1553.0 1251.0L1543.0 1251.0L1533.0 1251.0L1523.0 1251.0L1513.0 1251.0L1503.0 1251.0L1493.0 1251.0L1483.0 1251.0L1473.0 1251.0L1463.0 1251.0L1453.0 1251.0L1443.0 1251.0L1433.0 1251.0L1423.0 1251.0L1413.0 1251.0L1403.0 1251.0L1393.0 1251.0L1383.0 1251.0L1373.0 1251.0L1363.0 1251.0L1353.0 1251.0L1343.0 1251.0L1333.0 1251.0L1323.0 1251.0L1313.0 1251.0L1303.0 1251.0L1293.0 1251.0L1283.0 1251.0L1273.0 1251.0L1263.0 1251.0L1253.0 1251.0L1243.0 1251.0L1233.0 1251.0L1223.0 1251.0L1213.0 1251.0L1203.0 1251.0L1193.0 1251.0L1183.0 1251.0L1173.0 1251.0L1163.0 1251.0L1153.0 1251.0L1143.0 1251.0L1133.0 1251.0L1123.0 1251.0L1113.0 1251.0L1103.0 1251.0L1093.0 1251.0L1083.0 1251.0L1073.0 1251.0L1063.0 1251.0L1053.0 1251.0L1043.0 1251.0L1033.0 1251.0L1023.0 1251.0L1013.0 1251.0L1003.0 1251.0L993.0 1251.0L983.0 1251.0L973.0 1251.0L963.0 1251.0L953.0 1251.0L943.0 1251.0L933.0 1251.0L923.0 1251.0L913.0 1251.0L903.0 1251.0L893.0 1251.0L883.0 1251.0L873.0 1251.0L863.0 1251.0L853.0 1251.0L843.0 1251.0L833.0 1251.0L823.0 1251.0L813.0 1251.0L803.0 1251.0L793.0 1251.0L783.0 1251.0L773.0 1251.0L763.0 1251.0L753.0 1251.0L743.0 1251.0L733.0 1251.0L723.0 1251.0L713.0 1251.0L703.0 1251.0L693.0 1251.0L683.0 1251.0L673.0 1251.0L663.0 1251.0L653.0 1251.0L643.0 1251.0L633.0 1251.0L623.0 1251.0L613.0 1251.0L603.0 1251.0L593.0 1251.0L583.0 1251.0L573.0 1251.0L563.0 1251.0L553.0 1251.0L543.0 1251.0L533.0 1251.0L523.0 1251.0L513.0 1251.0L503.0 1251.0L493.0 1251.0L483.0 1251.0L473.0 1251.0L463.0 1251.0L453.0 1251.0L443.0 1251.0L433.0 1251.0L423.0 1251.0L413.0 1251.0L403.0 1251.0L393.0 1251.0L383.0 1251.0L373.0 1251.0L363.0 1251.0L353.0 1251.0L343.0 1251.0L343.0 1241.0L343.0 1231.0L343.0 1221.0L343.0 1211.0L343.0 1201.0L343.0 1191.0L343.0 1181.0L343.0 1171.0L343.0 1161.0L343.0 1151.0L343.0 1141.0L343.0 1131.0L343.0 1121.0L343.0 1111.0L343.0 1101.0L343.0 1091.0L343.0 1081.0L343.0 1071.0L343.0 1061.0L343.0 1051.0L343.0 1041.0L343.0 1031.0L343.0 1021.0L343.0 1011.0L343.0 1001.0L343.0 991.0L343.0 981.0L343.0 971.0L343.0 961.0L343.0 951.0L343.0 941.0L343.0 931.0L343.0 921.0L343.0 911.0L343.0 901.0L343.0 891.0L343.0 881.0L343.0 871.0L343.0 861.0L343.0 851.0L343.0 841.0L343.0 831.0L343.0 821.0L343.0 811.0L343.0 801.0L343.0 791.0L343.0 781.0L343.0 771.0L343.0 761.0L343.0 751.0L343.0 741.0L343.0 731.0L343.0 721.0L343.0 711.0L343.0 701.0L343.0 691.0L343.0 681.0L343.0 671.0L343.0 661.0L343.0 651.0L343.0 641.0L343.0 631.0L343.0 621.0L343.0 615.3L353.0 615.3L363.0 615.3L373.0 615.3L383.0 615.3L393.0 615.3L403.0 614.6L412.5 611.0L413.0 610.7L423.0 601.3ZM836.5 721.0L843.0 715.4L853.0 715.4L859.2 721.0L859.5 731.0L853.0 737.5L843.0 737.5L836.5 731.0ZM1557.4 921.0L1563.0 914.7L1573.0 914.8L1579.5 921.0L1579.3 931.0L1573.0 936.6L1563.0 934.0L1560.0 931.0Z"/>
<path fill="#f89540" fill-rule="evenodd" d="M343.0 641.0L343.0 636.7L353.0 636.7L363.0 636.7L373.0 636.7L383.0 636.7L393.0 636.7L403.0 636.7L413.0 636.5L423.0 637.0L432.5 641.0L433.0 641.3L443.0 650.7L443.5 651.0L453.0 655.2L463.0 656.0L473.0 656.0L483.0 656.9L492.5 661.0L493.0 661.3L503.0 670.9L503.2 671.0L513.0 675.5L523.0 676.5L533.0 676.7L543.0 677.4L552.5 681.0L553.0 681.3L563.0 690.7L563.5 691.0L573.0 695.2L583.0 696.0L593.0 696.0L603.0 696.8L612.5 701.0L613.0 701.3L623.0 710.7L623.5 711.0L633.0 715.2L643.0 716.8L652.5 721.0L653.0 721.3L662.5 731.0L663.0 731.5L673.0 740.5L673.5 741.0L682.5 751.0L683.0 751.5L693.0 760.5L693.5 761.0L702.5 771.0L703.0 771.5L713.0 780.5L713.5 781.0L723.0 790.7L723.5 791.0L733.0 795.2L743.0 796.8L752.5 801.0L753.0 801.3L763.0 810.7L763.5 811.0L773.0 815.2L783.0 816.9L791.4 821.0L793.0 822.6L797.1 831.0L798.0 841.0L798.0 851.0L798.9 861.0L803.0 869.4L804.6 871.0L813.0 875.1L823.0 876.8L832.5 881.0L833.0 881.3L843.0 890.7L843.5 891.0L853.0 895.2L863.0 896.8L872.5 901.0L873.0 901.3L883.0 910.7L883.5 911.0L893.0 915.2L903.0 915.1L911.0 911.0L913.0 908.4L915.7 901.0L916.0 891.0L919.4 881.0L923.0 878.0L933.0 877.9L937.4 881.0L943.0 887.8L945.5 891.0L953.0 900.2L953.8 901.0L963.0 910.7L963.5 911.0L973.0 915.2L983.0 916.0L993.0 916.0L1003.0 916.0L1013.0 916.0L1023.0 916.1L1033.0 916.2L1043.0 916.5L1053.0 916.7L1063.0 916.7L1073.0 916.7L1083.0 916.7L1093.0 916.7L1103.0 918.1L1108.5 921.0L1113.0 924.2L1121.6 931.0L1123.0 932.1L1133.0 936.0L1143.0 936.7L1153.0 936.7L1163.0 936.7L1173.0 936.5L1183.0 936.2L1193.0 936.1L1203.0 936.0L1213.0 936.0L1223.0 936.0L1233.0 936.0L1243.0 935.3L1252.5 931.0L1253.0 930.7L1263.0 921.3L1263.5 921.0L1273.0 916.8L1283.0 916.0L1293.0 916.0L1303.0 916.0L1313.0 916.0L1323.0 916.8L1333.0 921.0L1333.0 921.0L1343.0 928.2L1349.9 931.0L1353.0 932.0L1363.0 934.5L1373.0 940.5L1373.6 941.0L1375.8 951.0L1373.0 954.5L1363.0 959.2L1353.0 959.8L1343.0 958.9L1333.0 957.4L1323.0 956.3L1313.0 957.2L1307.0 961.0L1303.0 964.0L1294.1 971.0L1293.0 971.8L1288.9 971.0L1283.0 969.5L1277.7 961.0L1273.0 955.8L1263.0 954.4L1256.6 961.0L1256.4 971.0L1263.0 978.6L1267.2 981.0L1273.0 985.2L1278.4 991.0L1283.0 995.0L1293.0 997.9L1303.0 997.3L1313.0 996.3L1323.0 996.0L1333.0 996.0L1343.0 996.0L1353.0 996.0L1363.0 996.0L1373.0 996.0L1383.0 996.0L1393.0 996.0L1403.0 996.8L1412.5 1001.0L1413.0 1001.3L1423.0 1010.7L1423.5 1011.0L1433.0 1015.2L1443.0 1016.0L1453.0 1016.0L1463.0 1016.0L1473.0 1016.0L1483.0 1017.2L1488.8 1021.0L1493.0 1024.8L1498.4 1031.0L1503.0 1034.7L1513.0 1034.7L1517.6 1031.0L1523.0 1024.8L1527.2 1021.0L1533.0 1017.4L1543.0 1017.3L1552.5 1021.0L1553.0 1021.3L1563.0 1030.7L1563.5 1031.0L1573.0 1035.2L1583.0 1036.8L1592.5 1041.0L1593.0 1041.3L1603.0 1050.7L1603.5 1051.0L1613.0 1055.2L1623.0 1056.0L1633.0 1056.0L1643.0 1056.1L1653.0 1056.2L1663.0 1056.5L1673.0 1056.7L1683.0 1058.3L1687.5 1061.0L1693.0 1065.1L1701.1 1071.0L1703.0 1072.5L1713.0 1076.0L1723.0 1077.1L1732.5 1081.0L1733.0 1081.3L1743.0 1090.9L1743.2 1091.0L1753.0 1095.5L1763.0 1096.5L1773.0 1096.8L1783.0 1096.9L1793.0 1096.9L1803.0 1096.8L1813.0 1096.7L1823.0 1096.7L1833.0 1096.7L1843.0 1096.7L1853.0 1096.7L1863.0 1096.7L1873.0 1096.5L1883.0 1097.0L1892.5 1101.0L1893.0 1101.3L1903.0 1110.7L1903.5 1111.0L1913.0 1115.2L1923.0 1116.0L1933.0 1116.0L1943.0 1116.1L1953.0 1116.4L1963.0 1116.7L1973.0 1116.8L1983.0 1116.8L1993.0 1116.7L2003.0 1116.7L2013.0 1116.7L2023.0 1116.7L2033.0 1116.7L2043.0 1116.7L2053.0 1116.7L2063.0 1116.7L2073.0 1116.7L2083.0 1116.7L2093.0 1116.7L2103.0 1116.7L2113.0 1116.7L2123.0 1116.7L2133.0 1116.7L2143.0 1116.7L2153.0 1116.7L2153.0 1121.0L2153.0 1131.0L2153.0 1141.0L2153.0 1151.0L2153.0 1161.0L2153.0 1171.0L2153.0 1181.0L2153.0 1191.0L2153.0 1201.0L2153.0 1211.0L2153.0 1221.0L2153.0 1231.0L2153.0 1241.0L2153.0 1251.0L2143.0 1251.0L2133.0 1251.0L2123.0 1251.0L2113.0 1251.0L2103.0 1251.0L2093.0 1251.0L2083.0 1251.0L2073.0 1251.0L2063.0 1251.0L2053.0 1251.0L2043.0 1251.0L2033.0 1251.0L2023.0 1251.0L2013.0 1251.0L2003.0 1251.0L1993.0 1251.0L1983.0 1251.0L1973.0 1251.0L1963.0 1251.0L1953.0 1251.0L1943.0 1251.0L1933.0 1251.0L1923.0 1251.0L1913.0 1251.0L1903.0 1251.0L1893.0 1251.0L1883.0 1251.0L1873.0 1251.0L1863.0 1251.0L1853.0 1251.0L1843.0 1251.0L1833.0 1251.0L1823.0 1251.0L1813.0 1251.0L1803.0 1251.0L1793.0 1251.0L1783.0 1251.0L1773.0 1251.0L1763.0 1251.0L1753.0 1251.0L1743.0 1251.0L1733.0 1251.0L1723.0 1251.0L1713.0 1251.0L1703.0 1251.0L1693.0 1251.0L1683.0 1251.0L1673.0 1251.0L1663.0 1251.0L1653.0 1251.0L1643.0 1251.0L1633.0 1251.0L1623.0 1251.0L1613.0 1251.0L1603.0 1251.0L1593.0 1251.0L1583.0 1251.0L1573.0 1251.0L1563.0 1251.0L1553.0 1251.0L1543.0 1251.0L1533.0 1251.0L1523.0 1251.0L1513.0 1251.0L1503.0 1251.0L1493.0 1251.0L1483.0 1251.0L1473.0 1251.0L1463.0 1251.0L1453.0 1251.0L1443.0 1251.0L1433.0 1251.0L1423.0 1251.0L1413.0 1251.0L1403.0 1251.0L1393.0 1251.0L1383.0 1251.0L1373.0 1251.0L1363.0 1251.0L1353.0 1251.0L1343.0 1251.0L1333.0 1251.0L1323.0 1251.0L1313.0 1251.0L1303.0 1251.0L1293.0 1251.0L1283.0 1251.0L1273.0 1251.0L1263.0 1251.0L1253.0 1251.0L1243.0 1251.0L1233.0 1251.0L1223.0 1251.0L1213.0 1251.0L1203.0 1251.0L1193.0 1251.0L1183.0 1251.0L1173.0 1251.0L1163.0 1251.0L1153.0 1251.0L1143.0 1251.0L1133.0 1251.0L1123.0 1251.0L1113.0 1251.0L1103.0 1251.0L1093.0 1251.0L1083.0 1251.0L1073.0 1251.0L1063.0 1251.0L1053.0 1251.0L1043.0 1251.0L1033.0 1251.0L1023.0 1251.0L1013.0 1251.0L1003.0 1251.0L993.0 1251.0L983.0 1251.0L973.0 1251.0L963.0 1251.0L953.0 1251.0L943.0 1251.0L933.0 1251.0L923.0 1251.0L913.0 1251.0L903.0 1251.0L893.0 1251.0L883.0 1251.0L873.0 1251.0L863.0 1251.0L853.0 1251.0L843.0 1251.0L833.0 1251.0L823.0 1251.0L813.0 1251.0L803.0 1251.0L793.0 1251.0L783.0 1251.0L773.0 1251.0L763.0 1251.0L753.0 1251.0L743.0 1251.0L733.0 1251.0L723.0 1251.0L713.0 1251.0L703.0 1251.0L693.0 1251.0L683.0 1251.0L673.0 1251.0L663.0 1251.0L653.0 1251.0L643.0 1251.0L633.0 1251.0L623.0 1251.0L613.0 1251.0L603.0 1251.0L593.0 1251.0L583.0 1251.0L573.0 1251.0L563.0 1251.0L553.0 1251.0L543.0 1251.0L533.0 1251.0L523.0 1251.0L513.0 1251.0L503.0 1251.0L493.0 1251.0L483.0 1251.0L473.0 1251.0L463.0 1251.0L453.0 1251.0L443.0 1251.0L433.0 1251.0L423.0 1251.0L413.0 1251.0L403.0 1251.0L393.0 1251.0L383.0 1251.0L373.0 1251.0L363.0 1251.0L353.0 1251.0L343.0 1251.0L343.0 1241.0L343.0 1231.0L343.0 1221.0L343.0 1211.0L343.0 1201.0L343.0 1191.0L343.0 1181.0L343.0 1171.0L343.0 1161.0L343.0 1151.0L343.0 1141.0L343.0 1131.0L343.0 1121.0L343.0 1111.0L343.0 1101.0L343.0 1091.0L343.0 1081.0L343.0 1071.0L343.0 1061.0L343.0 1051.0L343.0 1041.0L343.0 1031.0L343.0 1021.0L343.0 1011.0L343.0 1001.0L343.0 991.0L343.0 981.0L343.0 971.0L343.0 961.0L343.0 951.0L343.0 941.0L343.0 931.0L343.0 921.0L343.0 911.0L343.0 901.0L343.0 891.0L343.0 881.0L343.0 871.0L343.0 861.0L343.0 851.0L343.0 841.0L343.0 831.0L343.0 821.0L343.0 811.0L343.0 801.0L343.0 791.0L343.0 781.0L343.0 771.0L343.0 761.0L343.0 751.0L343.0 741.0L343.0 731.0L343.0 721.0L343.0 711.0L343.0 701.0L343.0 691.0L343.0 681.0L343.0 671.0L343.0 661.0L343.0 651.0Z"/>
<polygon fill="#ea7457" points="398.2,695.3 408.9,687.1 419.6,695.3 408.9,703.5"/>
<polygon fill="#bf3984" points="407.1,695.3 408.9,693.9 410.7,695.3 408.9,696.7"/>
<polygon fill="#ea7457" points="651.6,886.9 663.0,877.0 674.4,886.9 663.0,896.8"/>
<polygon fill="#bf3984" points="660.6,886.9 663.0,884.9 665.4,886.9 663.0,888.9"/>
<polygon fill="#ea7457" points="770.4,1097.6 781.8,1086.2 793.2,1097.6 781.8,1109.0"/>
<polygon fill="#d6556d" points="776.3,1097.6 781.8,1092.1 787.3,1097.6 781.8,1103.1"/>
<polygon fill="#bf3984" points="779.6,1097.6 781.8,1095.4 784.0,1097.6 781.8,1099.8"/>
<polygon fill="#ea7457" points="1313.9,1142.4 1323.5,1133.8 1333.1,1142.4 1323.5,1151.0"/>
<polygon fill="#ea7457" points="1805.0,1187.6 1814.8,1178.9 1824.6,1187.6 1814.8,1196.3"/>
<polygon fill="#7e03a8" points="644.0,297.0 667.0,297.0 667.0,309.0 662.0,314.0 649.0,314.0 644.0,309.0"/>
<polygon fill="#7e03a8" points="693.0,297.0 717.0,297.0 717.0,309.0 712.0,314.0 698.0,314.0 693.0,309.0"/>
<polygon fill="#ea7457" points="474.0,492.0 479.0,492.0 481.0,500.0 478.0,510.0 475.5,512.5 473.0,503.0"/>
<polygon fill="#ea7457" points="480.5,515.5 492.0,512.3 501.0,515.0 493.0,518.3"/>
<polygon fill="#bf3984" points="403.6,575.8 409.2,571.3 414.8,575.8 409.2,580.3"/>
<polygon fill="#ea7457" points="458.0,574.7 461.0,571.7 464.0,574.7 461.0,577.7"/>
<polygon fill="#feba2c" points="468.5,1173.2 475.2,1170.2 481.1,1172.4 482.6,1182.1 484.9,1188.0 476.7,1193.2 470.0,1188.7 469.3,1180.6"/>
<polygon fill="#feba2c" points="1090.6,1112.0 1100.3,1110.1 1105.0,1110.5 1105.0,1115.3 1100.3,1116.0"/>
<polygon fill="#feba2c" points="1846.0,1128.1 1864.5,1116.5 1873.6,1127.1 1867.4,1133.9 1853.8,1143.6 1852.8,1155.3 1848.0,1172.7 1832.4,1174.7 1828.6,1170.8 1836.3,1165.0 1841.8,1157.2 1842.5,1143.6 1845.6,1132.0"/>
<polygon fill="#feba2c" points="1769.4,1217.8 1780.0,1208.7 1797.5,1196.4 1802.9,1202.8 1797.5,1210.6 1791.7,1217.8 1789.7,1223.2 1766.4,1223.2"/>

</g>
<g stroke="#b0b0b0" stroke-opacity="0.3" stroke-width="2.1" fill="none"><line x1="603.9" y1="296.6" x2="603.9" y2="1219.3"/><line x1="916.0" y1="296.6" x2="916.0" y2="1219.3"/><line x1="1228.2" y1="296.6" x2="1228.2" y2="1219.3"/><line x1="1540.3" y1="296.6" x2="1540.3" y2="1219.3"/><line x1="1852.5" y1="296.6" x2="1852.5" y2="1219.3"/><line x1="358.5" y1="1064.8" x2="2136.6" y2="1064.8"/><line x1="358.5" y1="856.7" x2="2136.6" y2="856.7"/><line x1="358.5" y1="648.6" x2="2136.6" y2="648.6"/><line x1="358.5" y1="440.5" x2="2136.6" y2="440.5"/></g>
<g clip-path="url(#axclip)"><polyline fill="none" stroke="#000" stroke-width="2.3" stroke-linejoin="round" stroke-linecap="round" points="430.0,298.9 431.0,304.7 436.8,309.6 437.8,315.4 432.9,323.2 444.6,322.8 460.1,326.1 483.4,336.8 503.8,344.5 513.5,343.0 526.1,348.4 545.5,358.1 553.3,367.8 559.1,373.6 572.7,379.5 584.3,383.3 596.0,388.2 601.8,393.0 603.7,398.9"/>
<polyline fill="none" stroke="#000" stroke-width="2.3" stroke-linejoin="round" stroke-linecap="round" points="603.7,398.9 587.2,403.1 582.4,401.8 579.5,396.9 576.6,397.9 569.8,404.7 571.7,410.5 566.9,416.3 557.2,423.1 551.3,429.9 541.6,438.7 531.9,446.4 524.2,449.3 515.4,451.3 511.5,457.1 508.6,464.9 500.9,474.6 490.2,483.3 477.6,487.2 471.8,492.0 468.8,499.8 470.8,507.6 475.6,517.3 474.7,525.0 473.5,527.0 468.6,531.8 462.8,535.7 463.8,539.6 457.0,544.4 451.2,550.3 449.2,555.1 441.5,557.1 439.5,561.9 442.4,567.7 445.3,572.6 447.3,580.3 449.2,583.3 453.1,584.2 454.1,588.1 452.1,597.8 449.2,606.6 445.3,605.2 441.5,605.2 440.5,609.5 442.4,614.3 444.0,620.1 441.5,622.1 435.6,623.4 428.8,623.0 423.0,626.0 419.7,631.8 417.2,642.5 417.2,650.2 415.3,654.1 408.5,658.0 403.6,662.8 401.7,669.6 401.7,677.4 403.0,683.2 408.5,686.1 414.3,687.5 420.1,691.0 424.0,695.8 429.8,700.7 439.5,702.6 444.4,706.5 448.3,711.4 454.1,712.7 458.0,718.2 462.8,725.0 467.7,727.9 476.4,726.3 482.2,727.9 488.0,732.7 493.9,738.5 497.4,740.5 498.1,734.7 496.2,725.9 497.4,719.1 502.6,715.2 511.3,715.2 511.7,721.1 515.2,724.0 523.0,725.5 528.8,726.9 532.7,731.7 536.6,736.6 542.4,739.5 549.2,742.4 554.0,747.3 559.9,751.2 563.7,752.1 574.4,752.1 578.0,754.7 579.9,762.5 585.8,766.4 593.5,767.4 599.4,766.0 601.7,769.3 603.2,774.7 616.8,777.1 634.3,780.0 640.1,782.9 644.0,787.7 646.9,796.5 649.8,804.2 655.6,810.1 661.5,815.9 665.3,821.7 661.1,825.2 664.4,827.5 666.3,831.4 671.2,831.0 675.0,828.5 677.4,822.7 680.9,821.7 686.7,823.6 692.5,828.5 696.8,834.3 698.3,840.1 702.2,843.0 713.9,848.5 723.6,853.1 727.5,857.6 732.3,860.9 741.0,862.8 746.9,864.8 752.7,869.3 759.5,875.7 769.2,880.3 776.0,884.8 781.8,888.3 787.6,888.7 793.5,884.8 801.2,877.0 807.0,874.5 817.7,875.5 823.5,878.0 830.3,883.8 836.2,886.7 843.9,889.6 853.6,896.4 868.2,907.1 883.7,914.5 890.5,920.7 895.4,924.6 904.1,926.9 921.6,924.6 937.1,920.7 947.8,918.4 953.6,920.7 956.5,925.5 959.4,934.3 961.3,947.9 964.3,957.6 969.1,962.4 983.7,963.0 995.3,963.8 1000.2,965.3 1009.9,970.2 1022.5,973.1 1034.1,973.1 1038.0,973.3 1047.7,973.3 1055.5,976.6 1067.1,985.3 1072.9,994.0 1078.8,996.5 1084.6,996.0 1090.4,991.1 1096.2,983.3 1097.8,980.4 1094.3,975.6 1095.3,969.8 1102.1,967.4 1119.5,967.4 1142.8,970.1 1158.3,975.6 1173.9,983.0 1187.5,989.2 1196.2,992.1 1199.1,993.0 1203.4,990.1 1201.0,984.3 1194.2,976.6 1195.2,974.6 1203.0,973.6 1212.7,972.1 1220.5,973.6 1229.2,974.0 1234.0,971.7 1239.9,965.9 1245.7,959.1 1250.5,957.7 1253.5,959.1 1254.4,963.0 1258.3,965.9 1264.1,968.8 1268.0,974.6 1275.8,974.0 1278.7,976.6 1283.5,983.3 1289.4,987.2 1300.0,989.2 1319.4,992.7 1340.8,996.0 1349.5,997.3 1356.3,1001.8 1361.2,1008.6 1365.1,1019.3 1366.0,1029.9 1365.1,1038.7 1361.2,1046.4 1357.9,1053.2 1359.2,1058.1 1364.1,1060.6 1375.7,1063.3 1387.4,1065.8 1395.1,1062.9 1399.0,1063.3 1401.9,1066.8 1407.8,1069.7 1415.5,1072.0 1421.3,1075.0 1425.2,1081.4 1427.2,1086.8 1434.0,1089.5 1440.8,1091.7 1440.8,1097.9 1445.6,1098.3 1458.2,1094.0 1463.1,1094.0 1471.2,1096.9 1471.8,1110.5 1477.6,1115.7 1488.3,1118.2 1498.0,1120.6 1506.8,1118.2 1512.6,1113.4 1517.4,1109.5 1518.0,1110.1 1525.8,1111.0 1539.4,1104.8 1547.1,1100.9 1561.7,1095.7 1580.1,1104.8 1584.0,1109.7 1585.0,1116.5 1583.6,1130.0 1585.9,1137.8 1591.8,1143.6 1601.5,1149.8 1606.3,1148.5 1608.3,1155.3 1613.1,1155.7 1618.9,1152.4 1632.5,1141.7 1638.3,1139.8 1648.0,1137.4 1653.9,1139.4 1669.4,1148.5 1679.1,1149.1 1685.9,1153.0 1692.7,1149.5 1704.3,1146.0 1709.2,1147.5 1710.5,1152.4 1718.9,1152.8 1725.7,1155.3 1737.3,1160.7 1749.9,1165.0 1757.7,1170.8 1776.2,1178.6 1789.7,1186.3 1794.6,1187.3 1798.5,1181.5 1801.4,1180.5 1809.1,1183.4 1814.0,1183.8 1819.8,1180.5 1824.7,1175.7 1828.2,1170.8 1836.3,1166.5 1848.0,1162.7 1856.7,1155.3 1861.9,1153.0 1863.5,1161.1 1865.4,1168.9 1869.3,1178.6 1874.2,1186.3 1881.0,1191.2 1888.7,1191.2 1899.4,1188.7 1904.3,1196.4 1911.1,1199.5 1919.8,1202.3 1923.7,1196.0 1927.5,1190.2 1935.3,1186.3 1945.0,1184.8 1954.7,1185.9 1958.0,1188.6 1967.3,1193.3 1975.6,1195.1 1984.0,1191.4 1991.4,1186.2 1996.0,1185.5 2001.6,1189.6 2006.2,1189.9 2009.0,1186.8 2011.8,1180.3 2014.6,1179.9 2021.1,1182.7 2024.8,1182.5 2029.4,1178.8 2034.0,1177.0 2040.5,1181.8 2043.3,1187.7 2047.0,1191.4 2052.6,1194.2 2057.2,1197.4 2063.7,1196.6 2069.3,1191.4 2073.9,1185.9 2077.6,1178.4 2078.9,1169.2 2078.5,1165.5 2080.4,1158.0 2084.1,1149.7 2089.7,1140.4 2094.3,1131.1 2096.7,1121.9 2097.1,1113.5 2095.6,1106.1 2094.9,1096.8 2092.5,1090.3 2087.8,1083.9 2084.1,1076.4 2080.4,1069.0 2075.8,1062.5 2070.2,1058.8 2063.7,1055.1 2059.6,1048.6 2055.9,1044.0 2055.7,1040.3 2058.5,1035.6 2059.6,1028.2 2060.0,1018.9 2063.7,1010.6 2067.4,1004.1 2069.3,997.6 2066.5,993.0 2065.2,987.4 2066.5,981.9 2066.5,981.1 2070.2,975.2 2067.4,970.9 2066.5,964.4 2068.3,957.0 2073.0,947.7 2079.5,938.4 2085.0,931.0 2087.8,920.8 2090.6,912.5 2094.3,905.1 2094.9,898.6 2094.3,894.9 2096.7,891.1 2095.6,888.4 2089.7,886.5 2085.0,885.0"/>
<polyline fill="none" stroke="#000" stroke-width="2.3" stroke-linejoin="round" stroke-linecap="round" points="603.7,398.9 609.6,406.6 615.4,418.3 620.2,429.9 623.2,435.8 630.9,435.4 638.7,437.7 645.5,439.2 650.3,436.7 650.3,430.9 656.2,427.0 660.0,424.1 659.1,417.3 662.0,413.4 670.7,412.5 677.5,406.6 680.4,395.0 682.4,387.2 680.4,379.5 683.3,370.7 684.3,363.0 691.1,362.0 700.8,369.8 710.5,371.7 713.4,363.0 724.1,359.1 728.0,353.8 737.7,355.2 753.2,361.0 766.8,365.5 778.4,363.0 790.1,366.3 800.8,366.8 806.6,371.7 817.3,369.8 828.9,370.7 830.8,375.6 829.9,387.2 833.8,396.0 843.5,401.8 842.5,408.6 838.6,416.3 841.5,425.1 845.4,429.0 854.1,427.6 863.8,431.9 873.5,433.8 883.2,438.7 894.9,440.6 898.1,443.0 903.3,448.2 909.9,451.9 917.3,453.4 923.3,456.1 929.2,461.6 936.6,469.0 943.3,475.7 947.0,476.0 952.2,474.6 955.2,476.4 955.6,479.4 953.7,483.1 955.9,486.8 961.9,490.8 968.5,495.0 973.0,500.6 976.7,502.7 981.1,504.6 984.1,509.1 986.8,511.0 991.5,509.1 996.7,506.1 1000.4,505.6 1004.1,509.5 1007.9,510.8 1013.8,510.1 1019.7,514.2 1027.1,519.9 1030.8,525.4 1033.8,528.3 1037.5,527.9 1039.3,521.4 1041.2,519.9 1052.4,518.4 1056.8,519.4 1060.1,522.4 1061.6,526.1 1067.2,528.3 1071.6,532.0 1074.9,535.8 1075.4,539.5 1072.4,542.7 1072.4,546.1 1075.4,550.1 1082.0,549.1 1088.0,547.9 1091.7,550.6 1094.6,554.3 1094.3,560.0 1095.3,561.9 1100.1,565.8 1101.1,569.7 1103.0,575.5 1108.8,579.4 1112.7,586.2 1121.5,590.7 1125.3,594.9 1127.3,602.7 1129.2,610.9 1136.0,612.0 1143.8,615.3 1151.5,616.7 1156.4,616.3 1158.3,612.4 1160.3,606.6 1165.1,601.7 1173.9,600.2 1183.6,600.4 1193.3,596.5 1200.1,594.5 1204.9,590.1 1215.6,588.3 1221.4,589.5 1223.4,593.4 1227.2,592.0 1232.1,593.0 1237.0,596.9 1243.7,595.3 1248.6,595.9 1250.0,600.8 1252.5,605.6 1261.2,606.2 1262.2,609.5 1258.3,615.3 1256.4,620.2 1259.3,625.0 1263.2,629.5 1266.1,637.3 1273.8,640.0 1276.7,643.5 1273.8,653.2 1271.9,660.9 1275.2,665.8 1278.7,670.6 1288.4,675.5 1300.0,677.4 1306.8,680.0 1309.7,684.2 1313.6,688.1 1317.5,692.0 1320.4,700.7 1323.3,704.6 1332.1,705.6 1340.8,709.5 1348.6,711.0 1356.3,713.0 1360.2,717.6 1367.0,719.5 1370.9,721.5 1369.9,729.8 1371.5,732.7 1379.6,733.1 1384.5,734.3 1389.3,738.6 1395.1,743.4 1400.0,744.8 1410.7,744.0 1419.4,745.9 1423.3,744.8 1428.1,737.0 1436.9,733.7 1439.8,730.4 1443.7,725.4 1448.5,724.4 1454.3,726.9 1461.1,730.8 1469.9,733.1 1471.8,735.7 1471.2,743.4 1468.9,749.8 1464.0,752.2 1461.1,755.1 1460.2,761.9 1453.4,765.7 1453.0,769.6 1454.3,779.3 1454.3,791.0 1458.2,795.2 1465.0,796.4 1472.8,793.9 1476.7,797.2 1478.0,797.5 1481.9,800.3 1489.6,801.8 1497.4,798.9 1502.3,798.3 1509.1,802.8 1513.9,802.8 1520.7,797.0 1525.6,795.6 1536.2,798.3 1549.8,798.3 1555.6,800.3 1561.5,804.7 1564.4,804.7 1568.3,799.9 1573.1,796.0 1578.0,794.1 1578.0,788.2 1580.9,787.3 1582.4,792.1 1582.8,801.8 1586.7,808.6 1594.5,815.4 1602.2,819.3 1611.9,823.2 1616.2,827.0 1618.7,833.8 1622.0,838.7 1622.6,844.5 1625.5,851.3 1631.3,856.2 1635.2,860.0 1636.2,865.9 1634.8,873.2 1636.2,877.9 1641.0,881.0 1648.8,880.4 1659.5,879.8 1665.3,875.6 1669.2,872.1 1665.3,865.9 1665.9,860.4 1662.0,858.1 1661.4,854.2 1662.4,846.5 1659.5,841.6 1662.4,839.1 1670.2,831.9 1677.0,825.1 1681.4,825.1 1684.1,829.0 1683.7,834.8 1680.8,842.2 1684.1,846.5 1685.7,851.3 1688.6,857.1 1695.4,858.5 1703.2,860.4 1709.0,865.9 1713.8,869.8 1719.7,868.2 1728.4,872.7 1735.2,876.0 1744.9,872.7 1750.7,868.8 1752.7,863.9 1753.6,853.3 1757.5,848.4 1758.5,842.6 1759.4,836.4 1763.3,834.8 1769.1,839.1 1774.0,840.6 1780.8,836.4 1786.6,834.8 1794.4,838.3 1798.3,842.6 1797.9,848.4 1800.2,852.7 1806.0,854.6 1815.7,853.8 1821.6,855.2 1826.4,859.1 1829.3,864.9 1835.1,868.2 1842.9,868.8 1854.6,867.4 1861.3,871.7 1869.1,880.4 1875.9,887.6 1881.7,892.1 1889.5,894.0 1901.1,893.0 1913.8,895.4 1918.6,893.0 1925.4,888.8 1931.2,887.6 1933.2,890.1 1930.3,896.0 1932.2,898.5 1943.8,896.0 1958.0,892.1 1967.3,892.1 1970.1,894.9 1973.8,898.0 1978.4,897.3 1985.8,894.3 1993.2,895.8 2002.5,897.6 2010.9,894.9 2017.3,889.3 2022.9,881.3 2026.6,876.9 2030.3,878.2 2039.6,878.7 2048.9,879.5 2057.2,882.2 2066.5,879.5 2071.1,880.0 2078.5,882.8 2085.0,885.0"/>
<polyline fill="none" stroke="#000" stroke-width="2.3" stroke-linejoin="round" stroke-linecap="round" points="2085.0,885.0 2082.6,880.9 2082.3,874.5 2083.7,869.8 2086.9,867.6 2095.2,868.0 2102.7,865.7 2115.6,863.9 2134.2,861.5 2139.8,860.9"/>
<polyline fill="none" stroke="#000" stroke-width="2.3" stroke-linejoin="round" stroke-linecap="round" points="2136.0,1150.6 2134.2,1153.4 2130.5,1165.5 2127.7,1172.0 2127.7,1176.6 2129.6,1179.9 2132.3,1179.9 2133.3,1174.7 2135.1,1172.9 2136.4,1172.1"/>
<polyline fill="none" stroke="#000" stroke-width="2.3" stroke-linejoin="round" stroke-linecap="round" points="2131.4,1218.3 2133.3,1213.7 2135.7,1211.5 2136.8,1210.7"/>
</g>
<rect x="358.5" y="296.6" width="1778.1" height="922.7" fill="none" stroke="#000" stroke-width="3.33" stroke-linejoin="miter"/>
<text x="1247.5" y="214" font-size="50" text-anchor="middle">Temp(°C) @ 20250929_12</text>
<text x="1262.5" y="271" font-size="50" text-anchor="middle">Simulation Time: 20250926_12</text>
<text x="603.9" y="1272" font-size="41.67" text-anchor="middle">81°E</text>
<text x="916.0" y="1272" font-size="41.67" text-anchor="middle">82.5°E</text>
<text x="1228.2" y="1272" font-size="41.67" text-anchor="middle">84°E</text>
<text x="1540.3" y="1272" font-size="41.67" text-anchor="middle">85.5°E</text>
<text x="1852.5" y="1272" font-size="41.67" text-anchor="middle">87°E</text>
<text x="337.5" y="1076.3" font-size="41.67" text-anchor="end">27°N</text>
<text x="337.5" y="868.2" font-size="41.67" text-anchor="end">28°N</text>
<text x="337.5" y="660.1" font-size="41.67" text-anchor="end">29°N</text>
<text x="337.5" y="452.0" font-size="41.67" text-anchor="end">30°N</text>
<g shape-rendering="crispEdges"><polygon points="2247.4,233.2 2275.8,180.5 2304.2,233.2" fill="#f0f921"/><polygon points="2247.4,1281 2275.8,1335.5 2304.2,1281" fill="#0d0887"/><rect x="2247.4" y="1177.02" width="56.8" height="105.48" fill="#2a0593"/><rect x="2247.4" y="1072.04" width="56.8" height="105.48" fill="#5601a4"/><rect x="2247.4" y="967.06" width="56.8" height="105.48" fill="#7e03a8"/><rect x="2247.4" y="862.08" width="56.8" height="105.48" fill="#a11b9b"/><rect x="2247.4" y="757.10" width="56.8" height="105.48" fill="#bf3984"/><rect x="2247.4" y="652.12" width="56.8" height="105.48" fill="#d6556d"/><rect x="2247.4" y="547.14" width="56.8" height="105.48" fill="#ea7457"/><rect x="2247.4" y="442.16" width="56.8" height="105.48" fill="#f89540"/><rect x="2247.4" y="337.18" width="56.8" height="105.48" fill="#feba2c"/><rect x="2247.4" y="232.20" width="56.8" height="105.48" fill="#f7e425"/></g>
<polygon points="2247.4,232.2 2275.8,180.5 2304.2,232.2 2304.2,1282 2275.8,1335.5 2247.4,1282" fill="none" stroke="#000" stroke-width="3.33" stroke-linejoin="miter"/>
<line x1="2304.2" y1="1177.0" x2="2320.5" y2="1177.0" stroke="#000" stroke-width="3.33"/><text x="2333.2" y="1191.5" font-size="41.67">0</text>
<line x1="2304.2" y1="967.1" x2="2320.5" y2="967.1" stroke="#000" stroke-width="3.33"/><text x="2333.2" y="981.6" font-size="41.67">10</text>
<line x1="2304.2" y1="757.1" x2="2320.5" y2="757.1" stroke="#000" stroke-width="3.33"/><text x="2333.2" y="771.6" font-size="41.67">20</text>
<line x1="2304.2" y1="547.1" x2="2320.5" y2="547.1" stroke="#000" stroke-width="3.33"/><text x="2333.2" y="561.6" font-size="41.67">30</text>
<line x1="2304.2" y1="337.2" x2="2320.5" y2="337.2" stroke="#000" stroke-width="3.33"/><text x="2333.2" y="351.7" font-size="41.67">40</text>
</svg>
</body></html>
